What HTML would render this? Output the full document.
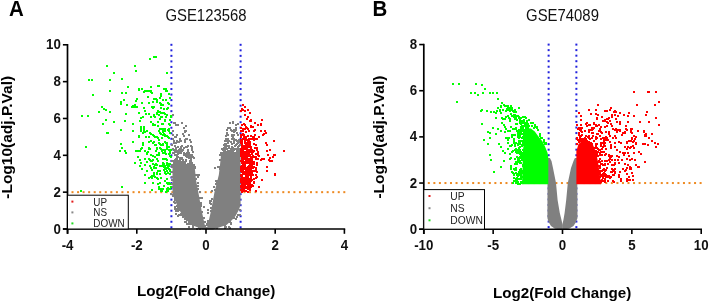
<!DOCTYPE html>
<html><head><meta charset="utf-8"><style>
html,body{margin:0;padding:0;background:#fff;width:709px;height:301px;overflow:hidden}
svg{display:block;filter:blur(0.35px)}
</style></head><body>
<svg width="709" height="301" viewBox="0 0 709 301" font-family='"Liberation Sans", sans-serif'>
<rect width="709" height="301" fill="#fff"/>
<rect x="170.40" y="43.80" width="2" height="2" fill="#2222dd"/>
<rect x="170.40" y="49.33" width="2" height="2" fill="#2222dd"/>
<rect x="170.40" y="54.86" width="2" height="2" fill="#2222dd"/>
<rect x="170.40" y="60.39" width="2" height="2" fill="#2222dd"/>
<rect x="170.40" y="65.92" width="2" height="2" fill="#2222dd"/>
<rect x="170.40" y="71.45" width="2" height="2" fill="#2222dd"/>
<rect x="170.40" y="76.98" width="2" height="2" fill="#2222dd"/>
<rect x="170.40" y="82.51" width="2" height="2" fill="#2222dd"/>
<rect x="170.40" y="88.04" width="2" height="2" fill="#2222dd"/>
<rect x="170.40" y="93.57" width="2" height="2" fill="#2222dd"/>
<rect x="170.40" y="99.10" width="2" height="2" fill="#2222dd"/>
<rect x="170.40" y="104.63" width="2" height="2" fill="#2222dd"/>
<rect x="170.40" y="110.16" width="2" height="2" fill="#2222dd"/>
<rect x="170.40" y="115.69" width="2" height="2" fill="#2222dd"/>
<rect x="170.40" y="121.22" width="2" height="2" fill="#2222dd"/>
<rect x="170.40" y="126.75" width="2" height="2" fill="#2222dd"/>
<rect x="170.40" y="132.28" width="2" height="2" fill="#2222dd"/>
<rect x="170.40" y="137.81" width="2" height="2" fill="#2222dd"/>
<rect x="170.40" y="143.34" width="2" height="2" fill="#2222dd"/>
<rect x="170.40" y="148.87" width="2" height="2" fill="#2222dd"/>
<rect x="170.40" y="154.40" width="2" height="2" fill="#2222dd"/>
<rect x="170.40" y="159.93" width="2" height="2" fill="#2222dd"/>
<rect x="170.40" y="165.46" width="2" height="2" fill="#2222dd"/>
<rect x="170.40" y="170.99" width="2" height="2" fill="#2222dd"/>
<rect x="170.40" y="176.52" width="2" height="2" fill="#2222dd"/>
<rect x="170.40" y="182.05" width="2" height="2" fill="#2222dd"/>
<rect x="170.40" y="187.58" width="2" height="2" fill="#2222dd"/>
<rect x="170.40" y="193.11" width="2" height="2" fill="#2222dd"/>
<rect x="170.40" y="198.64" width="2" height="2" fill="#2222dd"/>
<rect x="170.40" y="204.17" width="2" height="2" fill="#2222dd"/>
<rect x="170.40" y="209.70" width="2" height="2" fill="#2222dd"/>
<rect x="170.40" y="215.23" width="2" height="2" fill="#2222dd"/>
<rect x="170.40" y="220.76" width="2" height="2" fill="#2222dd"/>
<rect x="170.40" y="226.29" width="2" height="2" fill="#2222dd"/>
<rect x="239.60" y="43.80" width="2" height="2" fill="#2222dd"/>
<rect x="239.60" y="49.33" width="2" height="2" fill="#2222dd"/>
<rect x="239.60" y="54.86" width="2" height="2" fill="#2222dd"/>
<rect x="239.60" y="60.39" width="2" height="2" fill="#2222dd"/>
<rect x="239.60" y="65.92" width="2" height="2" fill="#2222dd"/>
<rect x="239.60" y="71.45" width="2" height="2" fill="#2222dd"/>
<rect x="239.60" y="76.98" width="2" height="2" fill="#2222dd"/>
<rect x="239.60" y="82.51" width="2" height="2" fill="#2222dd"/>
<rect x="239.60" y="88.04" width="2" height="2" fill="#2222dd"/>
<rect x="239.60" y="93.57" width="2" height="2" fill="#2222dd"/>
<rect x="239.60" y="99.10" width="2" height="2" fill="#2222dd"/>
<rect x="239.60" y="104.63" width="2" height="2" fill="#2222dd"/>
<rect x="239.60" y="110.16" width="2" height="2" fill="#2222dd"/>
<rect x="239.60" y="115.69" width="2" height="2" fill="#2222dd"/>
<rect x="239.60" y="121.22" width="2" height="2" fill="#2222dd"/>
<rect x="239.60" y="126.75" width="2" height="2" fill="#2222dd"/>
<rect x="239.60" y="132.28" width="2" height="2" fill="#2222dd"/>
<rect x="239.60" y="137.81" width="2" height="2" fill="#2222dd"/>
<rect x="239.60" y="143.34" width="2" height="2" fill="#2222dd"/>
<rect x="239.60" y="148.87" width="2" height="2" fill="#2222dd"/>
<rect x="239.60" y="154.40" width="2" height="2" fill="#2222dd"/>
<rect x="239.60" y="159.93" width="2" height="2" fill="#2222dd"/>
<rect x="239.60" y="165.46" width="2" height="2" fill="#2222dd"/>
<rect x="239.60" y="170.99" width="2" height="2" fill="#2222dd"/>
<rect x="239.60" y="176.52" width="2" height="2" fill="#2222dd"/>
<rect x="239.60" y="182.05" width="2" height="2" fill="#2222dd"/>
<rect x="239.60" y="187.58" width="2" height="2" fill="#2222dd"/>
<rect x="239.60" y="193.11" width="2" height="2" fill="#2222dd"/>
<rect x="239.60" y="198.64" width="2" height="2" fill="#2222dd"/>
<rect x="239.60" y="204.17" width="2" height="2" fill="#2222dd"/>
<rect x="239.60" y="209.70" width="2" height="2" fill="#2222dd"/>
<rect x="239.60" y="215.23" width="2" height="2" fill="#2222dd"/>
<rect x="239.60" y="220.76" width="2" height="2" fill="#2222dd"/>
<rect x="239.60" y="226.29" width="2" height="2" fill="#2222dd"/>
<rect x="71.50" y="191.16" width="2" height="2" fill="#ee8a22"/>
<rect x="77.05" y="191.16" width="2" height="2" fill="#ee8a22"/>
<rect x="82.59" y="191.16" width="2" height="2" fill="#ee8a22"/>
<rect x="88.14" y="191.16" width="2" height="2" fill="#ee8a22"/>
<rect x="93.69" y="191.16" width="2" height="2" fill="#ee8a22"/>
<rect x="99.23" y="191.16" width="2" height="2" fill="#ee8a22"/>
<rect x="104.78" y="191.16" width="2" height="2" fill="#ee8a22"/>
<rect x="110.33" y="191.16" width="2" height="2" fill="#ee8a22"/>
<rect x="115.88" y="191.16" width="2" height="2" fill="#ee8a22"/>
<rect x="121.42" y="191.16" width="2" height="2" fill="#ee8a22"/>
<rect x="126.97" y="191.16" width="2" height="2" fill="#ee8a22"/>
<rect x="132.52" y="191.16" width="2" height="2" fill="#ee8a22"/>
<rect x="138.06" y="191.16" width="2" height="2" fill="#ee8a22"/>
<rect x="143.61" y="191.16" width="2" height="2" fill="#ee8a22"/>
<rect x="149.16" y="191.16" width="2" height="2" fill="#ee8a22"/>
<rect x="154.70" y="191.16" width="2" height="2" fill="#ee8a22"/>
<rect x="160.25" y="191.16" width="2" height="2" fill="#ee8a22"/>
<rect x="165.80" y="191.16" width="2" height="2" fill="#ee8a22"/>
<rect x="171.35" y="191.16" width="2" height="2" fill="#ee8a22"/>
<rect x="176.89" y="191.16" width="2" height="2" fill="#ee8a22"/>
<rect x="182.44" y="191.16" width="2" height="2" fill="#ee8a22"/>
<rect x="187.99" y="191.16" width="2" height="2" fill="#ee8a22"/>
<rect x="193.53" y="191.16" width="2" height="2" fill="#ee8a22"/>
<rect x="199.08" y="191.16" width="2" height="2" fill="#ee8a22"/>
<rect x="204.63" y="191.16" width="2" height="2" fill="#ee8a22"/>
<rect x="210.17" y="191.16" width="2" height="2" fill="#ee8a22"/>
<rect x="215.72" y="191.16" width="2" height="2" fill="#ee8a22"/>
<rect x="221.27" y="191.16" width="2" height="2" fill="#ee8a22"/>
<rect x="226.82" y="191.16" width="2" height="2" fill="#ee8a22"/>
<rect x="232.36" y="191.16" width="2" height="2" fill="#ee8a22"/>
<rect x="237.91" y="191.16" width="2" height="2" fill="#ee8a22"/>
<rect x="243.46" y="191.16" width="2" height="2" fill="#ee8a22"/>
<rect x="249.00" y="191.16" width="2" height="2" fill="#ee8a22"/>
<rect x="254.55" y="191.16" width="2" height="2" fill="#ee8a22"/>
<rect x="260.10" y="191.16" width="2" height="2" fill="#ee8a22"/>
<rect x="265.64" y="191.16" width="2" height="2" fill="#ee8a22"/>
<rect x="271.19" y="191.16" width="2" height="2" fill="#ee8a22"/>
<rect x="276.74" y="191.16" width="2" height="2" fill="#ee8a22"/>
<rect x="282.29" y="191.16" width="2" height="2" fill="#ee8a22"/>
<rect x="287.83" y="191.16" width="2" height="2" fill="#ee8a22"/>
<rect x="293.38" y="191.16" width="2" height="2" fill="#ee8a22"/>
<rect x="298.93" y="191.16" width="2" height="2" fill="#ee8a22"/>
<rect x="304.47" y="191.16" width="2" height="2" fill="#ee8a22"/>
<rect x="310.02" y="191.16" width="2" height="2" fill="#ee8a22"/>
<rect x="315.57" y="191.16" width="2" height="2" fill="#ee8a22"/>
<rect x="321.12" y="191.16" width="2" height="2" fill="#ee8a22"/>
<rect x="326.66" y="191.16" width="2" height="2" fill="#ee8a22"/>
<rect x="332.21" y="191.16" width="2" height="2" fill="#ee8a22"/>
<rect x="337.76" y="191.16" width="2" height="2" fill="#ee8a22"/>
<rect x="343.30" y="191.16" width="2" height="2" fill="#ee8a22"/>
<rect x="547.63" y="43.60" width="2" height="2" fill="#2222dd"/>
<rect x="547.63" y="49.13" width="2" height="2" fill="#2222dd"/>
<rect x="547.63" y="54.66" width="2" height="2" fill="#2222dd"/>
<rect x="547.63" y="60.19" width="2" height="2" fill="#2222dd"/>
<rect x="547.63" y="65.72" width="2" height="2" fill="#2222dd"/>
<rect x="547.63" y="71.25" width="2" height="2" fill="#2222dd"/>
<rect x="547.63" y="76.78" width="2" height="2" fill="#2222dd"/>
<rect x="547.63" y="82.31" width="2" height="2" fill="#2222dd"/>
<rect x="547.63" y="87.84" width="2" height="2" fill="#2222dd"/>
<rect x="547.63" y="93.37" width="2" height="2" fill="#2222dd"/>
<rect x="547.63" y="98.90" width="2" height="2" fill="#2222dd"/>
<rect x="547.63" y="104.43" width="2" height="2" fill="#2222dd"/>
<rect x="547.63" y="109.96" width="2" height="2" fill="#2222dd"/>
<rect x="547.63" y="115.49" width="2" height="2" fill="#2222dd"/>
<rect x="547.63" y="121.02" width="2" height="2" fill="#2222dd"/>
<rect x="547.63" y="126.55" width="2" height="2" fill="#2222dd"/>
<rect x="547.63" y="132.08" width="2" height="2" fill="#2222dd"/>
<rect x="547.63" y="137.61" width="2" height="2" fill="#2222dd"/>
<rect x="547.63" y="143.14" width="2" height="2" fill="#2222dd"/>
<rect x="547.63" y="148.67" width="2" height="2" fill="#2222dd"/>
<rect x="547.63" y="154.20" width="2" height="2" fill="#2222dd"/>
<rect x="547.63" y="159.73" width="2" height="2" fill="#2222dd"/>
<rect x="547.63" y="165.26" width="2" height="2" fill="#2222dd"/>
<rect x="547.63" y="170.79" width="2" height="2" fill="#2222dd"/>
<rect x="547.63" y="176.32" width="2" height="2" fill="#2222dd"/>
<rect x="547.63" y="181.85" width="2" height="2" fill="#2222dd"/>
<rect x="547.63" y="187.38" width="2" height="2" fill="#2222dd"/>
<rect x="547.63" y="192.91" width="2" height="2" fill="#2222dd"/>
<rect x="547.63" y="198.44" width="2" height="2" fill="#2222dd"/>
<rect x="547.63" y="203.97" width="2" height="2" fill="#2222dd"/>
<rect x="547.63" y="209.50" width="2" height="2" fill="#2222dd"/>
<rect x="547.63" y="215.03" width="2" height="2" fill="#2222dd"/>
<rect x="547.63" y="220.56" width="2" height="2" fill="#2222dd"/>
<rect x="547.63" y="226.09" width="2" height="2" fill="#2222dd"/>
<rect x="575.37" y="43.60" width="2" height="2" fill="#2222dd"/>
<rect x="575.37" y="49.13" width="2" height="2" fill="#2222dd"/>
<rect x="575.37" y="54.66" width="2" height="2" fill="#2222dd"/>
<rect x="575.37" y="60.19" width="2" height="2" fill="#2222dd"/>
<rect x="575.37" y="65.72" width="2" height="2" fill="#2222dd"/>
<rect x="575.37" y="71.25" width="2" height="2" fill="#2222dd"/>
<rect x="575.37" y="76.78" width="2" height="2" fill="#2222dd"/>
<rect x="575.37" y="82.31" width="2" height="2" fill="#2222dd"/>
<rect x="575.37" y="87.84" width="2" height="2" fill="#2222dd"/>
<rect x="575.37" y="93.37" width="2" height="2" fill="#2222dd"/>
<rect x="575.37" y="98.90" width="2" height="2" fill="#2222dd"/>
<rect x="575.37" y="104.43" width="2" height="2" fill="#2222dd"/>
<rect x="575.37" y="109.96" width="2" height="2" fill="#2222dd"/>
<rect x="575.37" y="115.49" width="2" height="2" fill="#2222dd"/>
<rect x="575.37" y="121.02" width="2" height="2" fill="#2222dd"/>
<rect x="575.37" y="126.55" width="2" height="2" fill="#2222dd"/>
<rect x="575.37" y="132.08" width="2" height="2" fill="#2222dd"/>
<rect x="575.37" y="137.61" width="2" height="2" fill="#2222dd"/>
<rect x="575.37" y="143.14" width="2" height="2" fill="#2222dd"/>
<rect x="575.37" y="148.67" width="2" height="2" fill="#2222dd"/>
<rect x="575.37" y="154.20" width="2" height="2" fill="#2222dd"/>
<rect x="575.37" y="159.73" width="2" height="2" fill="#2222dd"/>
<rect x="575.37" y="165.26" width="2" height="2" fill="#2222dd"/>
<rect x="575.37" y="170.79" width="2" height="2" fill="#2222dd"/>
<rect x="575.37" y="176.32" width="2" height="2" fill="#2222dd"/>
<rect x="575.37" y="181.85" width="2" height="2" fill="#2222dd"/>
<rect x="575.37" y="187.38" width="2" height="2" fill="#2222dd"/>
<rect x="575.37" y="192.91" width="2" height="2" fill="#2222dd"/>
<rect x="575.37" y="198.44" width="2" height="2" fill="#2222dd"/>
<rect x="575.37" y="203.97" width="2" height="2" fill="#2222dd"/>
<rect x="575.37" y="209.50" width="2" height="2" fill="#2222dd"/>
<rect x="575.37" y="215.03" width="2" height="2" fill="#2222dd"/>
<rect x="575.37" y="220.56" width="2" height="2" fill="#2222dd"/>
<rect x="575.37" y="226.09" width="2" height="2" fill="#2222dd"/>
<rect x="427.80" y="182.04" width="2" height="2" fill="#ee8a22"/>
<rect x="433.35" y="182.04" width="2" height="2" fill="#ee8a22"/>
<rect x="438.89" y="182.04" width="2" height="2" fill="#ee8a22"/>
<rect x="444.44" y="182.04" width="2" height="2" fill="#ee8a22"/>
<rect x="449.99" y="182.04" width="2" height="2" fill="#ee8a22"/>
<rect x="455.54" y="182.04" width="2" height="2" fill="#ee8a22"/>
<rect x="461.08" y="182.04" width="2" height="2" fill="#ee8a22"/>
<rect x="466.63" y="182.04" width="2" height="2" fill="#ee8a22"/>
<rect x="472.18" y="182.04" width="2" height="2" fill="#ee8a22"/>
<rect x="477.72" y="182.04" width="2" height="2" fill="#ee8a22"/>
<rect x="483.27" y="182.04" width="2" height="2" fill="#ee8a22"/>
<rect x="488.82" y="182.04" width="2" height="2" fill="#ee8a22"/>
<rect x="494.36" y="182.04" width="2" height="2" fill="#ee8a22"/>
<rect x="499.91" y="182.04" width="2" height="2" fill="#ee8a22"/>
<rect x="505.46" y="182.04" width="2" height="2" fill="#ee8a22"/>
<rect x="511.01" y="182.04" width="2" height="2" fill="#ee8a22"/>
<rect x="516.55" y="182.04" width="2" height="2" fill="#ee8a22"/>
<rect x="522.10" y="182.04" width="2" height="2" fill="#ee8a22"/>
<rect x="527.65" y="182.04" width="2" height="2" fill="#ee8a22"/>
<rect x="533.19" y="182.04" width="2" height="2" fill="#ee8a22"/>
<rect x="538.74" y="182.04" width="2" height="2" fill="#ee8a22"/>
<rect x="544.29" y="182.04" width="2" height="2" fill="#ee8a22"/>
<rect x="549.83" y="182.04" width="2" height="2" fill="#ee8a22"/>
<rect x="555.38" y="182.04" width="2" height="2" fill="#ee8a22"/>
<rect x="560.93" y="182.04" width="2" height="2" fill="#ee8a22"/>
<rect x="566.48" y="182.04" width="2" height="2" fill="#ee8a22"/>
<rect x="572.02" y="182.04" width="2" height="2" fill="#ee8a22"/>
<rect x="577.57" y="182.04" width="2" height="2" fill="#ee8a22"/>
<rect x="583.12" y="182.04" width="2" height="2" fill="#ee8a22"/>
<rect x="588.66" y="182.04" width="2" height="2" fill="#ee8a22"/>
<rect x="594.21" y="182.04" width="2" height="2" fill="#ee8a22"/>
<rect x="599.76" y="182.04" width="2" height="2" fill="#ee8a22"/>
<rect x="605.30" y="182.04" width="2" height="2" fill="#ee8a22"/>
<rect x="610.85" y="182.04" width="2" height="2" fill="#ee8a22"/>
<rect x="616.40" y="182.04" width="2" height="2" fill="#ee8a22"/>
<rect x="621.95" y="182.04" width="2" height="2" fill="#ee8a22"/>
<rect x="627.49" y="182.04" width="2" height="2" fill="#ee8a22"/>
<rect x="633.04" y="182.04" width="2" height="2" fill="#ee8a22"/>
<rect x="638.59" y="182.04" width="2" height="2" fill="#ee8a22"/>
<rect x="644.13" y="182.04" width="2" height="2" fill="#ee8a22"/>
<rect x="649.68" y="182.04" width="2" height="2" fill="#ee8a22"/>
<rect x="655.23" y="182.04" width="2" height="2" fill="#ee8a22"/>
<rect x="660.77" y="182.04" width="2" height="2" fill="#ee8a22"/>
<rect x="666.32" y="182.04" width="2" height="2" fill="#ee8a22"/>
<rect x="671.87" y="182.04" width="2" height="2" fill="#ee8a22"/>
<rect x="677.42" y="182.04" width="2" height="2" fill="#ee8a22"/>
<rect x="682.96" y="182.04" width="2" height="2" fill="#ee8a22"/>
<rect x="688.51" y="182.04" width="2" height="2" fill="#ee8a22"/>
<rect x="694.06" y="182.04" width="2" height="2" fill="#ee8a22"/>
<rect x="699.60" y="182.04" width="2" height="2" fill="#ee8a22"/>
<polygon points="172.5,165.0 194.5,165.0 196.0,180.0 198.3,192.0 201.5,210.0 204.8,225.0 206.3,229.5 203.0,229.5 193.0,225.5 185.0,219.0 180.5,212.0 177.0,205.0 174.0,198.0 172.5,192.0" fill="#808080"/>
<polygon points="221.0,152.0 240.6,152.0 240.6,205.0 238.8,210.0 235.5,216.0 232.0,220.0 226.5,225.0 213.0,229.5 206.3,229.5 207.8,225.0 211.2,210.0 214.5,192.0 218.8,175.0 220.0,165.0 221.0,155.0" fill="#808080"/>
<polygon points="547.6,158.0 549.9,158.0 551.5,161.0 553.0,168.0 556.0,183.0 557.6,200.0 559.8,213.0 561.5,220.0 562.7,225.0 562.7,229.5 555.0,228.8 551.0,226.0 548.6,222.0 547.4,218.0" fill="#808080"/>
<polygon points="577.2,158.0 574.9,158.0 573.5,161.0 571.0,168.0 567.8,183.0 566.2,200.0 564.6,213.0 563.4,220.0 562.3,225.0 562.3,229.5 569.0,228.8 573.5,226.0 576.0,222.0 577.5,218.0" fill="#808080"/>
<polygon points="527.0,128.0 530.9,128.5 534.8,131.6 538.8,136.9 542.2,141.0 545.0,146.4 547.6,153.0 548.3,158.0 548.3,184.3 522.0,184.3 522.5,170.0 523.0,150.0 524.5,138.0" fill="#00ff00"/>
<polygon points="576.4,151.0 578.5,144.0 582.0,141.0 588.0,141.0 593.0,145.0 596.0,152.0 598.0,162.0 599.5,172.0 601.0,184.3 576.4,184.3" fill="#ff0000"/>
<rect x="185" y="221" width="2" height="2" fill="#808080"/>
<rect x="201" y="211" width="2" height="2" fill="#808080"/>
<rect x="181" y="163" width="2" height="2" fill="#808080"/>
<rect x="180" y="213" width="2" height="2" fill="#808080"/>
<rect x="171" y="179" width="2" height="2" fill="#808080"/>
<rect x="171" y="171" width="2" height="2" fill="#808080"/>
<rect x="184" y="162" width="2" height="2" fill="#808080"/>
<rect x="197" y="176" width="2" height="2" fill="#808080"/>
<rect x="200" y="205" width="2" height="2" fill="#808080"/>
<rect x="179" y="163" width="2" height="2" fill="#808080"/>
<rect x="172" y="194" width="2" height="2" fill="#808080"/>
<rect x="178" y="208" width="2" height="2" fill="#808080"/>
<rect x="181" y="164" width="2" height="2" fill="#808080"/>
<rect x="171" y="164" width="2" height="2" fill="#808080"/>
<rect x="197" y="182" width="2" height="2" fill="#808080"/>
<rect x="199" y="197" width="2" height="2" fill="#808080"/>
<rect x="173" y="163" width="2" height="2" fill="#808080"/>
<rect x="200" y="204" width="2" height="2" fill="#808080"/>
<rect x="177" y="164" width="2" height="2" fill="#808080"/>
<rect x="195" y="174" width="2" height="2" fill="#808080"/>
<rect x="191" y="164" width="2" height="2" fill="#808080"/>
<rect x="194" y="166" width="2" height="2" fill="#808080"/>
<rect x="198" y="174" width="2" height="2" fill="#808080"/>
<rect x="204" y="221" width="2" height="2" fill="#808080"/>
<rect x="201" y="197" width="2" height="2" fill="#808080"/>
<rect x="184" y="218" width="2" height="2" fill="#808080"/>
<rect x="182" y="216" width="2" height="2" fill="#808080"/>
<rect x="176" y="208" width="2" height="2" fill="#808080"/>
<rect x="171" y="186" width="2" height="2" fill="#808080"/>
<rect x="171" y="176" width="2" height="2" fill="#808080"/>
<rect x="176" y="205" width="2" height="2" fill="#808080"/>
<rect x="200" y="202" width="2" height="2" fill="#808080"/>
<rect x="199" y="191" width="2" height="2" fill="#808080"/>
<rect x="194" y="167" width="2" height="2" fill="#808080"/>
<rect x="197" y="185" width="2" height="2" fill="#808080"/>
<rect x="203" y="206" width="2" height="2" fill="#808080"/>
<rect x="195" y="178" width="2" height="2" fill="#808080"/>
<rect x="188" y="226" width="2" height="2" fill="#808080"/>
<rect x="188" y="163" width="2" height="2" fill="#808080"/>
<rect x="208" y="227" width="2" height="2" fill="#808080"/>
<rect x="172" y="195" width="2" height="2" fill="#808080"/>
<rect x="197" y="174" width="2" height="2" fill="#808080"/>
<rect x="186" y="164" width="2" height="2" fill="#808080"/>
<rect x="198" y="227" width="2" height="2" fill="#808080"/>
<rect x="171" y="166" width="2" height="2" fill="#808080"/>
<rect x="184" y="164" width="2" height="2" fill="#808080"/>
<rect x="180" y="164" width="2" height="2" fill="#808080"/>
<rect x="196" y="185" width="2" height="2" fill="#808080"/>
<rect x="203" y="217" width="2" height="2" fill="#808080"/>
<rect x="197" y="188" width="2" height="2" fill="#808080"/>
<rect x="176" y="163" width="2" height="2" fill="#808080"/>
<rect x="171" y="183" width="2" height="2" fill="#808080"/>
<rect x="175" y="213" width="2" height="2" fill="#808080"/>
<rect x="174" y="164" width="2" height="2" fill="#808080"/>
<rect x="181" y="214" width="2" height="2" fill="#808080"/>
<rect x="199" y="228" width="2" height="2" fill="#808080"/>
<rect x="190" y="157" width="2" height="2" fill="#808080"/>
<rect x="188" y="155" width="2" height="2" fill="#808080"/>
<rect x="176" y="158" width="2" height="2" fill="#808080"/>
<rect x="189" y="157" width="2" height="2" fill="#808080"/>
<rect x="190" y="164" width="2" height="2" fill="#808080"/>
<rect x="171" y="160" width="2" height="2" fill="#808080"/>
<rect x="175" y="147" width="2" height="2" fill="#808080"/>
<rect x="191" y="163" width="2" height="2" fill="#808080"/>
<rect x="175" y="124" width="2" height="2" fill="#808080"/>
<rect x="184" y="130" width="2" height="2" fill="#808080"/>
<rect x="185" y="160" width="2" height="2" fill="#808080"/>
<rect x="189" y="160" width="2" height="2" fill="#808080"/>
<rect x="183" y="135" width="2" height="2" fill="#808080"/>
<rect x="176" y="141" width="2" height="2" fill="#808080"/>
<rect x="175" y="149" width="2" height="2" fill="#808080"/>
<rect x="185" y="130" width="2" height="2" fill="#808080"/>
<rect x="182" y="159" width="2" height="2" fill="#808080"/>
<rect x="188" y="152" width="2" height="2" fill="#808080"/>
<rect x="179" y="138" width="2" height="2" fill="#808080"/>
<rect x="177" y="153" width="2" height="2" fill="#808080"/>
<rect x="181" y="161" width="2" height="2" fill="#808080"/>
<rect x="181" y="145" width="2" height="2" fill="#808080"/>
<rect x="176" y="156" width="2" height="2" fill="#808080"/>
<rect x="191" y="147" width="2" height="2" fill="#808080"/>
<rect x="172" y="148" width="2" height="2" fill="#808080"/>
<rect x="189" y="163" width="2" height="2" fill="#808080"/>
<rect x="176" y="140" width="2" height="2" fill="#808080"/>
<rect x="184" y="139" width="2" height="2" fill="#808080"/>
<rect x="184" y="163" width="2" height="2" fill="#808080"/>
<rect x="177" y="150" width="2" height="2" fill="#808080"/>
<rect x="173" y="140" width="2" height="2" fill="#808080"/>
<rect x="175" y="161" width="2" height="2" fill="#808080"/>
<rect x="176" y="151" width="2" height="2" fill="#808080"/>
<rect x="177" y="156" width="2" height="2" fill="#808080"/>
<rect x="186" y="154" width="2" height="2" fill="#808080"/>
<rect x="177" y="162" width="2" height="2" fill="#808080"/>
<rect x="182" y="162" width="2" height="2" fill="#808080"/>
<rect x="175" y="162" width="2" height="2" fill="#808080"/>
<rect x="187" y="151" width="2" height="2" fill="#808080"/>
<rect x="184" y="141" width="2" height="2" fill="#808080"/>
<rect x="177" y="152" width="2" height="2" fill="#808080"/>
<rect x="175" y="150" width="2" height="2" fill="#808080"/>
<rect x="180" y="163" width="2" height="2" fill="#808080"/>
<rect x="176" y="160" width="2" height="2" fill="#808080"/>
<rect x="179" y="160" width="2" height="2" fill="#808080"/>
<rect x="185" y="125" width="2" height="2" fill="#808080"/>
<rect x="185" y="155" width="2" height="2" fill="#808080"/>
<rect x="179" y="148" width="2" height="2" fill="#808080"/>
<rect x="171" y="144" width="2" height="2" fill="#808080"/>
<rect x="183" y="154" width="2" height="2" fill="#808080"/>
<rect x="172" y="152" width="2" height="2" fill="#808080"/>
<rect x="182" y="133" width="2" height="2" fill="#808080"/>
<rect x="189" y="162" width="2" height="2" fill="#808080"/>
<rect x="175" y="148" width="2" height="2" fill="#808080"/>
<rect x="176" y="124" width="2" height="2" fill="#808080"/>
<rect x="176" y="159" width="2" height="2" fill="#808080"/>
<rect x="173" y="142" width="2" height="2" fill="#808080"/>
<rect x="173" y="149" width="2" height="2" fill="#808080"/>
<rect x="175" y="154" width="2" height="2" fill="#808080"/>
<rect x="184" y="154" width="2" height="2" fill="#808080"/>
<rect x="174" y="145" width="2" height="2" fill="#808080"/>
<rect x="190" y="156" width="2" height="2" fill="#808080"/>
<rect x="181" y="158" width="2" height="2" fill="#808080"/>
<rect x="189" y="139" width="2" height="2" fill="#808080"/>
<rect x="177" y="124" width="2" height="2" fill="#808080"/>
<rect x="177" y="163" width="2" height="2" fill="#808080"/>
<rect x="172" y="114" width="2" height="2" fill="#808080"/>
<rect x="173" y="161" width="2" height="2" fill="#808080"/>
<rect x="174" y="162" width="2" height="2" fill="#808080"/>
<rect x="179" y="139" width="2" height="2" fill="#808080"/>
<rect x="180" y="152" width="2" height="2" fill="#808080"/>
<rect x="186" y="156" width="2" height="2" fill="#808080"/>
<rect x="172" y="134" width="2" height="2" fill="#808080"/>
<rect x="181" y="149" width="2" height="2" fill="#808080"/>
<rect x="176" y="134" width="2" height="2" fill="#808080"/>
<rect x="173" y="122" width="2" height="2" fill="#808080"/>
<rect x="180" y="147" width="2" height="2" fill="#808080"/>
<rect x="182" y="164" width="2" height="2" fill="#808080"/>
<rect x="176" y="155" width="2" height="2" fill="#808080"/>
<rect x="176" y="162" width="2" height="2" fill="#808080"/>
<rect x="177" y="161" width="2" height="2" fill="#808080"/>
<rect x="172" y="160" width="2" height="2" fill="#808080"/>
<rect x="193" y="157" width="2" height="2" fill="#808080"/>
<rect x="186" y="138" width="2" height="2" fill="#808080"/>
<rect x="186" y="152" width="2" height="2" fill="#808080"/>
<rect x="184" y="161" width="2" height="2" fill="#808080"/>
<rect x="175" y="136" width="2" height="2" fill="#808080"/>
<rect x="187" y="163" width="2" height="2" fill="#808080"/>
<rect x="189" y="154" width="2" height="2" fill="#808080"/>
<rect x="175" y="142" width="2" height="2" fill="#808080"/>
<rect x="185" y="159" width="2" height="2" fill="#808080"/>
<rect x="178" y="149" width="2" height="2" fill="#808080"/>
<rect x="172" y="138" width="2" height="2" fill="#808080"/>
<rect x="183" y="152" width="2" height="2" fill="#808080"/>
<rect x="177" y="146" width="2" height="2" fill="#808080"/>
<rect x="188" y="134" width="2" height="2" fill="#808080"/>
<rect x="190" y="141" width="2" height="2" fill="#808080"/>
<rect x="190" y="155" width="2" height="2" fill="#808080"/>
<rect x="188" y="154" width="2" height="2" fill="#808080"/>
<rect x="186" y="146" width="2" height="2" fill="#808080"/>
<rect x="191" y="146" width="2" height="2" fill="#808080"/>
<rect x="184" y="153" width="2" height="2" fill="#808080"/>
<rect x="188" y="157" width="2" height="2" fill="#808080"/>
<rect x="191" y="162" width="2" height="2" fill="#808080"/>
<rect x="187" y="149" width="2" height="2" fill="#808080"/>
<rect x="190" y="160" width="2" height="2" fill="#808080"/>
<rect x="179" y="152" width="2" height="2" fill="#808080"/>
<rect x="182" y="161" width="2" height="2" fill="#808080"/>
<rect x="179" y="161" width="2" height="2" fill="#808080"/>
<rect x="191" y="154" width="2" height="2" fill="#808080"/>
<rect x="179" y="159" width="2" height="2" fill="#808080"/>
<rect x="185" y="153" width="2" height="2" fill="#808080"/>
<rect x="174" y="122" width="2" height="2" fill="#808080"/>
<rect x="193" y="164" width="2" height="2" fill="#808080"/>
<rect x="179" y="150" width="2" height="2" fill="#808080"/>
<rect x="183" y="147" width="2" height="2" fill="#808080"/>
<rect x="189" y="164" width="2" height="2" fill="#808080"/>
<rect x="178" y="151" width="2" height="2" fill="#808080"/>
<rect x="177" y="160" width="2" height="2" fill="#808080"/>
<rect x="192" y="151" width="2" height="2" fill="#808080"/>
<rect x="173" y="152" width="2" height="2" fill="#808080"/>
<rect x="181" y="150" width="2" height="2" fill="#808080"/>
<rect x="187" y="145" width="2" height="2" fill="#808080"/>
<rect x="182" y="149" width="2" height="2" fill="#808080"/>
<rect x="181" y="157" width="2" height="2" fill="#808080"/>
<rect x="174" y="151" width="2" height="2" fill="#808080"/>
<rect x="190" y="159" width="2" height="2" fill="#808080"/>
<rect x="174" y="154" width="2" height="2" fill="#808080"/>
<rect x="175" y="158" width="2" height="2" fill="#808080"/>
<rect x="183" y="127" width="2" height="2" fill="#808080"/>
<rect x="178" y="163" width="2" height="2" fill="#808080"/>
<rect x="192" y="164" width="2" height="2" fill="#808080"/>
<rect x="178" y="141" width="2" height="2" fill="#808080"/>
<rect x="190" y="163" width="2" height="2" fill="#808080"/>
<rect x="185" y="146" width="2" height="2" fill="#808080"/>
<rect x="180" y="140" width="2" height="2" fill="#808080"/>
<rect x="190" y="145" width="2" height="2" fill="#808080"/>
<rect x="174" y="136" width="2" height="2" fill="#808080"/>
<rect x="187" y="154" width="2" height="2" fill="#808080"/>
<rect x="191" y="149" width="2" height="2" fill="#808080"/>
<rect x="180" y="146" width="2" height="2" fill="#808080"/>
<rect x="172" y="130" width="2" height="2" fill="#808080"/>
<rect x="192" y="156" width="2" height="2" fill="#808080"/>
<rect x="174" y="159" width="2" height="2" fill="#808080"/>
<rect x="185" y="138" width="2" height="2" fill="#808080"/>
<rect x="184" y="131" width="2" height="2" fill="#808080"/>
<rect x="181" y="122" width="2" height="2" fill="#808080"/>
<rect x="179" y="157" width="2" height="2" fill="#808080"/>
<rect x="178" y="214" width="2" height="2" fill="#808080"/>
<rect x="177" y="206" width="2" height="2" fill="#808080"/>
<rect x="174" y="198" width="2" height="2" fill="#808080"/>
<rect x="188" y="223" width="2" height="2" fill="#808080"/>
<rect x="174" y="208" width="2" height="2" fill="#808080"/>
<rect x="173" y="193" width="2" height="2" fill="#808080"/>
<rect x="189" y="223" width="2" height="2" fill="#808080"/>
<rect x="179" y="214" width="2" height="2" fill="#808080"/>
<rect x="188" y="221" width="2" height="2" fill="#808080"/>
<rect x="192" y="224" width="2" height="2" fill="#808080"/>
<rect x="170" y="193" width="2" height="2" fill="#808080"/>
<rect x="186" y="219" width="2" height="2" fill="#808080"/>
<rect x="175" y="210" width="2" height="2" fill="#808080"/>
<rect x="190" y="223" width="2" height="2" fill="#808080"/>
<rect x="174" y="206" width="2" height="2" fill="#808080"/>
<rect x="196" y="228" width="2" height="2" fill="#808080"/>
<rect x="184" y="221" width="2" height="2" fill="#808080"/>
<rect x="174" y="199" width="2" height="2" fill="#808080"/>
<rect x="192" y="226" width="2" height="2" fill="#808080"/>
<rect x="186" y="223" width="2" height="2" fill="#808080"/>
<rect x="174" y="202" width="2" height="2" fill="#808080"/>
<rect x="173" y="201" width="2" height="2" fill="#808080"/>
<rect x="178" y="209" width="2" height="2" fill="#808080"/>
<rect x="177" y="215" width="2" height="2" fill="#808080"/>
<rect x="177" y="210" width="2" height="2" fill="#808080"/>
<rect x="210" y="203" width="2" height="2" fill="#808080"/>
<rect x="224" y="225" width="2" height="2" fill="#808080"/>
<rect x="239" y="214" width="2" height="2" fill="#808080"/>
<rect x="207" y="221" width="2" height="2" fill="#808080"/>
<rect x="209" y="202" width="2" height="2" fill="#808080"/>
<rect x="216" y="180" width="2" height="2" fill="#808080"/>
<rect x="206" y="223" width="2" height="2" fill="#808080"/>
<rect x="216" y="227" width="2" height="2" fill="#808080"/>
<rect x="219" y="154" width="2" height="2" fill="#808080"/>
<rect x="220" y="154" width="2" height="2" fill="#808080"/>
<rect x="219" y="159" width="2" height="2" fill="#808080"/>
<rect x="210" y="207" width="2" height="2" fill="#808080"/>
<rect x="233" y="217" width="2" height="2" fill="#808080"/>
<rect x="207" y="212" width="2" height="2" fill="#808080"/>
<rect x="206" y="224" width="2" height="2" fill="#808080"/>
<rect x="211" y="190" width="2" height="2" fill="#808080"/>
<rect x="239" y="209" width="2" height="2" fill="#808080"/>
<rect x="219" y="168" width="2" height="2" fill="#808080"/>
<rect x="225" y="151" width="2" height="2" fill="#808080"/>
<rect x="207" y="209" width="2" height="2" fill="#808080"/>
<rect x="215" y="180" width="2" height="2" fill="#808080"/>
<rect x="230" y="222" width="2" height="2" fill="#808080"/>
<rect x="209" y="200" width="2" height="2" fill="#808080"/>
<rect x="215" y="183" width="2" height="2" fill="#808080"/>
<rect x="229" y="227" width="2" height="2" fill="#808080"/>
<rect x="236" y="150" width="2" height="2" fill="#808080"/>
<rect x="205" y="227" width="2" height="2" fill="#808080"/>
<rect x="228" y="151" width="2" height="2" fill="#808080"/>
<rect x="230" y="223" width="2" height="2" fill="#808080"/>
<rect x="224" y="227" width="2" height="2" fill="#808080"/>
<rect x="214" y="189" width="2" height="2" fill="#808080"/>
<rect x="211" y="198" width="2" height="2" fill="#808080"/>
<rect x="228" y="226" width="2" height="2" fill="#808080"/>
<rect x="204" y="225" width="2" height="2" fill="#808080"/>
<rect x="213" y="186" width="2" height="2" fill="#808080"/>
<rect x="207" y="220" width="2" height="2" fill="#808080"/>
<rect x="218" y="166" width="2" height="2" fill="#808080"/>
<rect x="223" y="151" width="2" height="2" fill="#808080"/>
<rect x="225" y="226" width="2" height="2" fill="#808080"/>
<rect x="236" y="216" width="2" height="2" fill="#808080"/>
<rect x="210" y="210" width="2" height="2" fill="#808080"/>
<rect x="207" y="222" width="2" height="2" fill="#808080"/>
<rect x="214" y="167" width="2" height="2" fill="#808080"/>
<rect x="224" y="150" width="2" height="2" fill="#808080"/>
<rect x="216" y="181" width="2" height="2" fill="#808080"/>
<rect x="217" y="166" width="2" height="2" fill="#808080"/>
<rect x="210" y="200" width="2" height="2" fill="#808080"/>
<rect x="227" y="150" width="2" height="2" fill="#808080"/>
<rect x="230" y="151" width="2" height="2" fill="#808080"/>
<rect x="232" y="151" width="2" height="2" fill="#808080"/>
<rect x="220" y="152" width="2" height="2" fill="#808080"/>
<rect x="232" y="121" width="2" height="2" fill="#808080"/>
<rect x="237" y="123" width="2" height="2" fill="#808080"/>
<rect x="237" y="151" width="2" height="2" fill="#808080"/>
<rect x="226" y="132" width="2" height="2" fill="#808080"/>
<rect x="222" y="148" width="2" height="2" fill="#808080"/>
<rect x="228" y="140" width="2" height="2" fill="#808080"/>
<rect x="227" y="142" width="2" height="2" fill="#808080"/>
<rect x="238" y="145" width="2" height="2" fill="#808080"/>
<rect x="233" y="131" width="2" height="2" fill="#808080"/>
<rect x="237" y="142" width="2" height="2" fill="#808080"/>
<rect x="239" y="150" width="2" height="2" fill="#808080"/>
<rect x="238" y="141" width="2" height="2" fill="#808080"/>
<rect x="223" y="148" width="2" height="2" fill="#808080"/>
<rect x="230" y="148" width="2" height="2" fill="#808080"/>
<rect x="239" y="140" width="2" height="2" fill="#808080"/>
<rect x="225" y="138" width="2" height="2" fill="#808080"/>
<rect x="227" y="134" width="2" height="2" fill="#808080"/>
<rect x="233" y="142" width="2" height="2" fill="#808080"/>
<rect x="232" y="138" width="2" height="2" fill="#808080"/>
<rect x="235" y="139" width="2" height="2" fill="#808080"/>
<rect x="224" y="143" width="2" height="2" fill="#808080"/>
<rect x="233" y="149" width="2" height="2" fill="#808080"/>
<rect x="225" y="143" width="2" height="2" fill="#808080"/>
<rect x="226" y="140" width="2" height="2" fill="#808080"/>
<rect x="233" y="129" width="2" height="2" fill="#808080"/>
<rect x="233" y="138" width="2" height="2" fill="#808080"/>
<rect x="236" y="149" width="2" height="2" fill="#808080"/>
<rect x="225" y="135" width="2" height="2" fill="#808080"/>
<rect x="235" y="144" width="2" height="2" fill="#808080"/>
<rect x="236" y="143" width="2" height="2" fill="#808080"/>
<rect x="239" y="139" width="2" height="2" fill="#808080"/>
<rect x="239" y="141" width="2" height="2" fill="#808080"/>
<rect x="227" y="138" width="2" height="2" fill="#808080"/>
<rect x="234" y="145" width="2" height="2" fill="#808080"/>
<rect x="232" y="135" width="2" height="2" fill="#808080"/>
<rect x="234" y="148" width="2" height="2" fill="#808080"/>
<rect x="228" y="145" width="2" height="2" fill="#808080"/>
<rect x="232" y="122" width="2" height="2" fill="#808080"/>
<rect x="237" y="149" width="2" height="2" fill="#808080"/>
<rect x="221" y="148" width="2" height="2" fill="#808080"/>
<rect x="233" y="134" width="2" height="2" fill="#808080"/>
<rect x="228" y="147" width="2" height="2" fill="#808080"/>
<rect x="237" y="134" width="2" height="2" fill="#808080"/>
<rect x="236" y="132" width="2" height="2" fill="#808080"/>
<rect x="229" y="122" width="2" height="2" fill="#808080"/>
<rect x="234" y="130" width="2" height="2" fill="#808080"/>
<rect x="240" y="135" width="2" height="2" fill="#808080"/>
<rect x="225" y="140" width="2" height="2" fill="#808080"/>
<rect x="227" y="127" width="2" height="2" fill="#808080"/>
<rect x="224" y="148" width="2" height="2" fill="#808080"/>
<rect x="237" y="146" width="2" height="2" fill="#808080"/>
<rect x="232" y="149" width="2" height="2" fill="#808080"/>
<rect x="236" y="148" width="2" height="2" fill="#808080"/>
<rect x="232" y="147" width="2" height="2" fill="#808080"/>
<rect x="230" y="149" width="2" height="2" fill="#808080"/>
<rect x="231" y="146" width="2" height="2" fill="#808080"/>
<rect x="235" y="129" width="2" height="2" fill="#808080"/>
<rect x="225" y="145" width="2" height="2" fill="#808080"/>
<rect x="231" y="134" width="2" height="2" fill="#808080"/>
<rect x="233" y="140" width="2" height="2" fill="#808080"/>
<rect x="233" y="148" width="2" height="2" fill="#808080"/>
<rect x="225" y="147" width="2" height="2" fill="#808080"/>
<rect x="239" y="144" width="2" height="2" fill="#808080"/>
<rect x="224" y="140" width="2" height="2" fill="#808080"/>
<rect x="232" y="150" width="2" height="2" fill="#808080"/>
<rect x="223" y="144" width="2" height="2" fill="#808080"/>
<rect x="238" y="148" width="2" height="2" fill="#808080"/>
<rect x="229" y="127" width="2" height="2" fill="#808080"/>
<rect x="226" y="129" width="2" height="2" fill="#808080"/>
<rect x="236" y="140" width="2" height="2" fill="#808080"/>
<rect x="222" y="149" width="2" height="2" fill="#808080"/>
<rect x="226" y="148" width="2" height="2" fill="#808080"/>
<rect x="226" y="151" width="2" height="2" fill="#808080"/>
<rect x="228" y="150" width="2" height="2" fill="#808080"/>
<rect x="231" y="138" width="2" height="2" fill="#808080"/>
<rect x="230" y="141" width="2" height="2" fill="#808080"/>
<rect x="235" y="124" width="2" height="2" fill="#808080"/>
<rect x="239" y="149" width="2" height="2" fill="#808080"/>
<rect x="235" y="127" width="2" height="2" fill="#808080"/>
<rect x="230" y="129" width="2" height="2" fill="#808080"/>
<rect x="234" y="139" width="2" height="2" fill="#808080"/>
<rect x="232" y="136" width="2" height="2" fill="#808080"/>
<rect x="238" y="139" width="2" height="2" fill="#808080"/>
<rect x="231" y="143" width="2" height="2" fill="#808080"/>
<rect x="225" y="146" width="2" height="2" fill="#808080"/>
<rect x="231" y="135" width="2" height="2" fill="#808080"/>
<rect x="223" y="147" width="2" height="2" fill="#808080"/>
<rect x="226" y="145" width="2" height="2" fill="#808080"/>
<rect x="231" y="130" width="2" height="2" fill="#808080"/>
<rect x="224" y="146" width="2" height="2" fill="#808080"/>
<rect x="231" y="150" width="2" height="2" fill="#808080"/>
<rect x="226" y="133" width="2" height="2" fill="#808080"/>
<rect x="232" y="134" width="2" height="2" fill="#808080"/>
<rect x="229" y="221" width="2" height="2" fill="#808080"/>
<rect x="237" y="214" width="2" height="2" fill="#808080"/>
<rect x="235" y="218" width="2" height="2" fill="#808080"/>
<rect x="106" y="65" width="2" height="2" fill="#00ff00"/>
<rect x="113" y="72" width="2" height="2" fill="#00ff00"/>
<rect x="88" y="79" width="2" height="2" fill="#00ff00"/>
<rect x="91" y="79" width="2" height="2" fill="#00ff00"/>
<rect x="109" y="79" width="2" height="2" fill="#00ff00"/>
<rect x="121" y="78" width="2" height="2" fill="#00ff00"/>
<rect x="127" y="86" width="2" height="2" fill="#00ff00"/>
<rect x="109" y="90" width="2" height="2" fill="#00ff00"/>
<rect x="92" y="94" width="2" height="2" fill="#00ff00"/>
<rect x="121" y="92" width="2" height="2" fill="#00ff00"/>
<rect x="125" y="92" width="2" height="2" fill="#00ff00"/>
<rect x="123" y="99" width="2" height="2" fill="#00ff00"/>
<rect x="120" y="103" width="2" height="2" fill="#00ff00"/>
<rect x="120" y="101" width="2" height="2" fill="#00ff00"/>
<rect x="126" y="104" width="2" height="2" fill="#00ff00"/>
<rect x="101" y="106" width="2" height="2" fill="#00ff00"/>
<rect x="103" y="108" width="2" height="2" fill="#00ff00"/>
<rect x="105" y="109" width="2" height="2" fill="#00ff00"/>
<rect x="98" y="111" width="2" height="2" fill="#00ff00"/>
<rect x="109" y="111" width="2" height="2" fill="#00ff00"/>
<rect x="81" y="115" width="2" height="2" fill="#00ff00"/>
<rect x="87" y="115" width="2" height="2" fill="#00ff00"/>
<rect x="125" y="113" width="2" height="2" fill="#00ff00"/>
<rect x="105" y="119" width="2" height="2" fill="#00ff00"/>
<rect x="102" y="123" width="2" height="2" fill="#00ff00"/>
<rect x="113" y="121" width="2" height="2" fill="#00ff00"/>
<rect x="124" y="120" width="2" height="2" fill="#00ff00"/>
<rect x="120" y="129" width="2" height="2" fill="#00ff00"/>
<rect x="107" y="132" width="2" height="2" fill="#00ff00"/>
<rect x="85" y="146" width="2" height="2" fill="#00ff00"/>
<rect x="106" y="132" width="2" height="2" fill="#00ff00"/>
<rect x="120" y="143" width="2" height="2" fill="#00ff00"/>
<rect x="119" y="150" width="2" height="2" fill="#00ff00"/>
<rect x="121" y="147" width="2" height="2" fill="#00ff00"/>
<rect x="124" y="150" width="2" height="2" fill="#00ff00"/>
<rect x="125" y="152" width="2" height="2" fill="#00ff00"/>
<rect x="121" y="186" width="2" height="2" fill="#00ff00"/>
<rect x="80" y="190" width="2" height="2" fill="#00ff00"/>
<rect x="149" y="58" width="2" height="2" fill="#00ff00"/>
<rect x="153" y="56" width="2" height="2" fill="#00ff00"/>
<rect x="155" y="56" width="2" height="2" fill="#00ff00"/>
<rect x="134" y="65" width="2" height="2" fill="#00ff00"/>
<rect x="135" y="70" width="2" height="2" fill="#00ff00"/>
<rect x="166" y="72" width="2" height="2" fill="#00ff00"/>
<rect x="138" y="89" width="2" height="2" fill="#00ff00"/>
<rect x="141" y="88" width="2" height="2" fill="#00ff00"/>
<rect x="150" y="86" width="2" height="2" fill="#00ff00"/>
<rect x="157" y="85" width="2" height="2" fill="#00ff00"/>
<rect x="163" y="88" width="2" height="2" fill="#00ff00"/>
<rect x="165" y="88" width="2" height="2" fill="#00ff00"/>
<rect x="144" y="90" width="2" height="2" fill="#00ff00"/>
<rect x="146" y="90" width="2" height="2" fill="#00ff00"/>
<rect x="148" y="90" width="2" height="2" fill="#00ff00"/>
<rect x="150" y="90" width="2" height="2" fill="#00ff00"/>
<rect x="138" y="88" width="2" height="2" fill="#00ff00"/>
<rect x="158" y="85" width="2" height="2" fill="#00ff00"/>
<rect x="143" y="91" width="2" height="2" fill="#00ff00"/>
<rect x="145" y="90" width="2" height="2" fill="#00ff00"/>
<rect x="150" y="91" width="2" height="2" fill="#00ff00"/>
<rect x="151" y="92" width="2" height="2" fill="#00ff00"/>
<rect x="160" y="93" width="2" height="2" fill="#00ff00"/>
<rect x="160" y="95" width="2" height="2" fill="#00ff00"/>
<rect x="165" y="90" width="2" height="2" fill="#00ff00"/>
<rect x="166" y="90" width="2" height="2" fill="#00ff00"/>
<rect x="168" y="93" width="2" height="2" fill="#00ff00"/>
<rect x="147" y="96" width="2" height="2" fill="#00ff00"/>
<rect x="136" y="98" width="2" height="2" fill="#00ff00"/>
<rect x="135" y="100" width="2" height="2" fill="#00ff00"/>
<rect x="165" y="99" width="2" height="2" fill="#00ff00"/>
<rect x="148" y="102" width="2" height="2" fill="#00ff00"/>
<rect x="159" y="102" width="2" height="2" fill="#00ff00"/>
<rect x="160" y="103" width="2" height="2" fill="#00ff00"/>
<rect x="162" y="104" width="2" height="2" fill="#00ff00"/>
<rect x="167" y="102" width="2" height="2" fill="#00ff00"/>
<rect x="168" y="103" width="2" height="2" fill="#00ff00"/>
<rect x="132" y="105" width="2" height="2" fill="#00ff00"/>
<rect x="131" y="106" width="2" height="2" fill="#00ff00"/>
<rect x="134" y="104" width="2" height="2" fill="#00ff00"/>
<rect x="135" y="106" width="2" height="2" fill="#00ff00"/>
<rect x="136" y="106" width="2" height="2" fill="#00ff00"/>
<rect x="133" y="106" width="2" height="2" fill="#00ff00"/>
<rect x="151" y="106" width="2" height="2" fill="#00ff00"/>
<rect x="152" y="107" width="2" height="2" fill="#00ff00"/>
<rect x="153" y="106" width="2" height="2" fill="#00ff00"/>
<rect x="166" y="108" width="2" height="2" fill="#00ff00"/>
<rect x="157" y="110" width="2" height="2" fill="#00ff00"/>
<rect x="156" y="112" width="2" height="2" fill="#00ff00"/>
<rect x="156" y="113" width="2" height="2" fill="#00ff00"/>
<rect x="138" y="112" width="2" height="2" fill="#00ff00"/>
<rect x="160" y="112" width="2" height="2" fill="#00ff00"/>
<rect x="162" y="112" width="2" height="2" fill="#00ff00"/>
<rect x="163" y="112" width="2" height="2" fill="#00ff00"/>
<rect x="164" y="113" width="2" height="2" fill="#00ff00"/>
<rect x="166" y="114" width="2" height="2" fill="#00ff00"/>
<rect x="170" y="115" width="2" height="2" fill="#00ff00"/>
<rect x="142" y="116" width="2" height="2" fill="#00ff00"/>
<rect x="140" y="117" width="2" height="2" fill="#00ff00"/>
<rect x="150" y="116" width="2" height="2" fill="#00ff00"/>
<rect x="160" y="116" width="2" height="2" fill="#00ff00"/>
<rect x="161" y="116" width="2" height="2" fill="#00ff00"/>
<rect x="139" y="120" width="2" height="2" fill="#00ff00"/>
<rect x="150" y="121" width="2" height="2" fill="#00ff00"/>
<rect x="152" y="124" width="2" height="2" fill="#00ff00"/>
<rect x="154" y="124" width="2" height="2" fill="#00ff00"/>
<rect x="157" y="121" width="2" height="2" fill="#00ff00"/>
<rect x="164" y="120" width="2" height="2" fill="#00ff00"/>
<rect x="169" y="119" width="2" height="2" fill="#00ff00"/>
<rect x="132" y="123" width="2" height="2" fill="#00ff00"/>
<rect x="157" y="125" width="2" height="2" fill="#00ff00"/>
<rect x="162" y="123" width="2" height="2" fill="#00ff00"/>
<rect x="168" y="123" width="2" height="2" fill="#00ff00"/>
<rect x="169" y="124" width="2" height="2" fill="#00ff00"/>
<rect x="140" y="126" width="2" height="2" fill="#00ff00"/>
<rect x="143" y="126" width="2" height="2" fill="#00ff00"/>
<rect x="140" y="128" width="2" height="2" fill="#00ff00"/>
<rect x="162" y="128" width="2" height="2" fill="#00ff00"/>
<rect x="164" y="128" width="2" height="2" fill="#00ff00"/>
<rect x="168" y="128" width="2" height="2" fill="#00ff00"/>
<rect x="132" y="130" width="2" height="2" fill="#00ff00"/>
<rect x="140" y="129" width="2" height="2" fill="#00ff00"/>
<rect x="140" y="130" width="2" height="2" fill="#00ff00"/>
<rect x="143" y="130" width="2" height="2" fill="#00ff00"/>
<rect x="144" y="131" width="2" height="2" fill="#00ff00"/>
<rect x="146" y="130" width="2" height="2" fill="#00ff00"/>
<rect x="149" y="132" width="2" height="2" fill="#00ff00"/>
<rect x="150" y="133" width="2" height="2" fill="#00ff00"/>
<rect x="152" y="134" width="2" height="2" fill="#00ff00"/>
<rect x="159" y="128" width="2" height="2" fill="#00ff00"/>
<rect x="160" y="128" width="2" height="2" fill="#00ff00"/>
<rect x="162" y="129" width="2" height="2" fill="#00ff00"/>
<rect x="164" y="130" width="2" height="2" fill="#00ff00"/>
<rect x="167" y="129" width="2" height="2" fill="#00ff00"/>
<rect x="168" y="130" width="2" height="2" fill="#00ff00"/>
<rect x="169" y="132" width="2" height="2" fill="#00ff00"/>
<rect x="159" y="132" width="2" height="2" fill="#00ff00"/>
<rect x="160" y="133" width="2" height="2" fill="#00ff00"/>
<rect x="162" y="134" width="2" height="2" fill="#00ff00"/>
<rect x="163" y="133" width="2" height="2" fill="#00ff00"/>
<rect x="164" y="134" width="2" height="2" fill="#00ff00"/>
<rect x="166" y="135" width="2" height="2" fill="#00ff00"/>
<rect x="138" y="135" width="2" height="2" fill="#00ff00"/>
<rect x="142" y="132" width="2" height="2" fill="#00ff00"/>
<rect x="153" y="135" width="2" height="2" fill="#00ff00"/>
<rect x="154" y="136" width="2" height="2" fill="#00ff00"/>
<rect x="156" y="136" width="2" height="2" fill="#00ff00"/>
<rect x="157" y="137" width="2" height="2" fill="#00ff00"/>
<rect x="148" y="136" width="2" height="2" fill="#00ff00"/>
<rect x="167" y="136" width="2" height="2" fill="#00ff00"/>
<rect x="168" y="137" width="2" height="2" fill="#00ff00"/>
<rect x="132" y="141" width="2" height="2" fill="#00ff00"/>
<rect x="142" y="142" width="2" height="2" fill="#00ff00"/>
<rect x="142" y="144" width="2" height="2" fill="#00ff00"/>
<rect x="148" y="141" width="2" height="2" fill="#00ff00"/>
<rect x="152" y="142" width="2" height="2" fill="#00ff00"/>
<rect x="154" y="144" width="2" height="2" fill="#00ff00"/>
<rect x="155" y="144" width="2" height="2" fill="#00ff00"/>
<rect x="158" y="142" width="2" height="2" fill="#00ff00"/>
<rect x="159" y="143" width="2" height="2" fill="#00ff00"/>
<rect x="160" y="144" width="2" height="2" fill="#00ff00"/>
<rect x="162" y="144" width="2" height="2" fill="#00ff00"/>
<rect x="164" y="141" width="2" height="2" fill="#00ff00"/>
<rect x="165" y="142" width="2" height="2" fill="#00ff00"/>
<rect x="166" y="144" width="2" height="2" fill="#00ff00"/>
<rect x="168" y="146" width="2" height="2" fill="#00ff00"/>
<rect x="156" y="147" width="2" height="2" fill="#00ff00"/>
<rect x="156" y="148" width="2" height="2" fill="#00ff00"/>
<rect x="159" y="147" width="2" height="2" fill="#00ff00"/>
<rect x="160" y="148" width="2" height="2" fill="#00ff00"/>
<rect x="162" y="149" width="2" height="2" fill="#00ff00"/>
<rect x="164" y="150" width="2" height="2" fill="#00ff00"/>
<rect x="166" y="148" width="2" height="2" fill="#00ff00"/>
<rect x="168" y="149" width="2" height="2" fill="#00ff00"/>
<rect x="169" y="150" width="2" height="2" fill="#00ff00"/>
<rect x="148" y="148" width="2" height="2" fill="#00ff00"/>
<rect x="149" y="148" width="2" height="2" fill="#00ff00"/>
<rect x="135" y="150" width="2" height="2" fill="#00ff00"/>
<rect x="139" y="150" width="2" height="2" fill="#00ff00"/>
<rect x="144" y="150" width="2" height="2" fill="#00ff00"/>
<rect x="146" y="152" width="2" height="2" fill="#00ff00"/>
<rect x="146" y="153" width="2" height="2" fill="#00ff00"/>
<rect x="150" y="154" width="2" height="2" fill="#00ff00"/>
<rect x="152" y="155" width="2" height="2" fill="#00ff00"/>
<rect x="154" y="156" width="2" height="2" fill="#00ff00"/>
<rect x="156" y="154" width="2" height="2" fill="#00ff00"/>
<rect x="158" y="153" width="2" height="2" fill="#00ff00"/>
<rect x="161" y="150" width="2" height="2" fill="#00ff00"/>
<rect x="162" y="152" width="2" height="2" fill="#00ff00"/>
<rect x="164" y="152" width="2" height="2" fill="#00ff00"/>
<rect x="165" y="153" width="2" height="2" fill="#00ff00"/>
<rect x="168" y="153" width="2" height="2" fill="#00ff00"/>
<rect x="169" y="152" width="2" height="2" fill="#00ff00"/>
<rect x="137" y="156" width="2" height="2" fill="#00ff00"/>
<rect x="144" y="158" width="2" height="2" fill="#00ff00"/>
<rect x="149" y="159" width="2" height="2" fill="#00ff00"/>
<rect x="150" y="160" width="2" height="2" fill="#00ff00"/>
<rect x="152" y="159" width="2" height="2" fill="#00ff00"/>
<rect x="156" y="158" width="2" height="2" fill="#00ff00"/>
<rect x="157" y="160" width="2" height="2" fill="#00ff00"/>
<rect x="162" y="158" width="2" height="2" fill="#00ff00"/>
<rect x="164" y="158" width="2" height="2" fill="#00ff00"/>
<rect x="166" y="159" width="2" height="2" fill="#00ff00"/>
<rect x="169" y="155" width="2" height="2" fill="#00ff00"/>
<rect x="170" y="156" width="2" height="2" fill="#00ff00"/>
<rect x="134" y="162" width="2" height="2" fill="#00ff00"/>
<rect x="140" y="162" width="2" height="2" fill="#00ff00"/>
<rect x="144" y="164" width="2" height="2" fill="#00ff00"/>
<rect x="152" y="163" width="2" height="2" fill="#00ff00"/>
<rect x="154" y="164" width="2" height="2" fill="#00ff00"/>
<rect x="162" y="162" width="2" height="2" fill="#00ff00"/>
<rect x="162" y="164" width="2" height="2" fill="#00ff00"/>
<rect x="164" y="165" width="2" height="2" fill="#00ff00"/>
<rect x="166" y="162" width="2" height="2" fill="#00ff00"/>
<rect x="169" y="163" width="2" height="2" fill="#00ff00"/>
<rect x="168" y="165" width="2" height="2" fill="#00ff00"/>
<rect x="139" y="165" width="2" height="2" fill="#00ff00"/>
<rect x="149" y="165" width="2" height="2" fill="#00ff00"/>
<rect x="153" y="166" width="2" height="2" fill="#00ff00"/>
<rect x="153" y="167" width="2" height="2" fill="#00ff00"/>
<rect x="155" y="167" width="2" height="2" fill="#00ff00"/>
<rect x="159" y="165" width="2" height="2" fill="#00ff00"/>
<rect x="163" y="166" width="2" height="2" fill="#00ff00"/>
<rect x="164" y="167" width="2" height="2" fill="#00ff00"/>
<rect x="166" y="167" width="2" height="2" fill="#00ff00"/>
<rect x="167" y="166" width="2" height="2" fill="#00ff00"/>
<rect x="168" y="168" width="2" height="2" fill="#00ff00"/>
<rect x="146" y="170" width="2" height="2" fill="#00ff00"/>
<rect x="151" y="169" width="2" height="2" fill="#00ff00"/>
<rect x="153" y="172" width="2" height="2" fill="#00ff00"/>
<rect x="153" y="173" width="2" height="2" fill="#00ff00"/>
<rect x="156" y="172" width="2" height="2" fill="#00ff00"/>
<rect x="157" y="170" width="2" height="2" fill="#00ff00"/>
<rect x="158" y="170" width="2" height="2" fill="#00ff00"/>
<rect x="159" y="173" width="2" height="2" fill="#00ff00"/>
<rect x="156" y="173" width="2" height="2" fill="#00ff00"/>
<rect x="163" y="169" width="2" height="2" fill="#00ff00"/>
<rect x="164" y="171" width="2" height="2" fill="#00ff00"/>
<rect x="164" y="172" width="2" height="2" fill="#00ff00"/>
<rect x="169" y="170" width="2" height="2" fill="#00ff00"/>
<rect x="169" y="173" width="2" height="2" fill="#00ff00"/>
<rect x="150" y="176" width="2" height="2" fill="#00ff00"/>
<rect x="148" y="177" width="2" height="2" fill="#00ff00"/>
<rect x="153" y="175" width="2" height="2" fill="#00ff00"/>
<rect x="154" y="176" width="2" height="2" fill="#00ff00"/>
<rect x="156" y="177" width="2" height="2" fill="#00ff00"/>
<rect x="157" y="178" width="2" height="2" fill="#00ff00"/>
<rect x="160" y="177" width="2" height="2" fill="#00ff00"/>
<rect x="164" y="180" width="2" height="2" fill="#00ff00"/>
<rect x="159" y="182" width="2" height="2" fill="#00ff00"/>
<rect x="144" y="182" width="2" height="2" fill="#00ff00"/>
<rect x="166" y="182" width="2" height="2" fill="#00ff00"/>
<rect x="167" y="183" width="2" height="2" fill="#00ff00"/>
<rect x="168" y="182" width="2" height="2" fill="#00ff00"/>
<rect x="169" y="183" width="2" height="2" fill="#00ff00"/>
<rect x="163" y="185" width="2" height="2" fill="#00ff00"/>
<rect x="160" y="188" width="2" height="2" fill="#00ff00"/>
<rect x="161" y="190" width="2" height="2" fill="#00ff00"/>
<rect x="162" y="188" width="2" height="2" fill="#00ff00"/>
<rect x="166" y="189" width="2" height="2" fill="#00ff00"/>
<rect x="167" y="187" width="2" height="2" fill="#00ff00"/>
<rect x="167" y="190" width="2" height="2" fill="#00ff00"/>
<rect x="168" y="188" width="2" height="2" fill="#00ff00"/>
<rect x="165" y="191" width="2" height="2" fill="#00ff00"/>
<rect x="170" y="186" width="2" height="2" fill="#00ff00"/>
<rect x="169" y="188" width="2" height="2" fill="#00ff00"/>
<rect x="163" y="163" width="2" height="2" fill="#00ff00"/>
<rect x="156" y="164" width="2" height="2" fill="#00ff00"/>
<rect x="165" y="116" width="2" height="2" fill="#00ff00"/>
<rect x="155" y="98" width="2" height="2" fill="#00ff00"/>
<rect x="163" y="108" width="2" height="2" fill="#00ff00"/>
<rect x="169" y="97" width="2" height="2" fill="#00ff00"/>
<rect x="165" y="168" width="2" height="2" fill="#00ff00"/>
<rect x="166" y="170" width="2" height="2" fill="#00ff00"/>
<rect x="159" y="170" width="2" height="2" fill="#00ff00"/>
<rect x="164" y="149" width="2" height="2" fill="#00ff00"/>
<rect x="166" y="178" width="2" height="2" fill="#00ff00"/>
<rect x="160" y="107" width="2" height="2" fill="#00ff00"/>
<rect x="169" y="169" width="2" height="2" fill="#00ff00"/>
<rect x="152" y="123" width="2" height="2" fill="#00ff00"/>
<rect x="153" y="115" width="2" height="2" fill="#00ff00"/>
<rect x="170" y="116" width="2" height="2" fill="#00ff00"/>
<rect x="153" y="141" width="2" height="2" fill="#00ff00"/>
<rect x="160" y="104" width="2" height="2" fill="#00ff00"/>
<rect x="155" y="150" width="2" height="2" fill="#00ff00"/>
<rect x="166" y="188" width="2" height="2" fill="#00ff00"/>
<rect x="168" y="163" width="2" height="2" fill="#00ff00"/>
<rect x="157" y="183" width="2" height="2" fill="#00ff00"/>
<rect x="158" y="152" width="2" height="2" fill="#00ff00"/>
<rect x="156" y="99" width="2" height="2" fill="#00ff00"/>
<rect x="165" y="173" width="2" height="2" fill="#00ff00"/>
<rect x="167" y="172" width="2" height="2" fill="#00ff00"/>
<rect x="162" y="143" width="2" height="2" fill="#00ff00"/>
<rect x="158" y="154" width="2" height="2" fill="#00ff00"/>
<rect x="158" y="186" width="2" height="2" fill="#00ff00"/>
<rect x="164" y="135" width="2" height="2" fill="#00ff00"/>
<rect x="166" y="142" width="2" height="2" fill="#00ff00"/>
<rect x="158" y="188" width="2" height="2" fill="#00ff00"/>
<rect x="170" y="149" width="2" height="2" fill="#00ff00"/>
<rect x="160" y="190" width="2" height="2" fill="#00ff00"/>
<rect x="167" y="107" width="2" height="2" fill="#00ff00"/>
<rect x="166" y="164" width="2" height="2" fill="#00ff00"/>
<rect x="159" y="118" width="2" height="2" fill="#00ff00"/>
<rect x="158" y="130" width="2" height="2" fill="#00ff00"/>
<rect x="154" y="116" width="2" height="2" fill="#00ff00"/>
<rect x="166" y="146" width="2" height="2" fill="#00ff00"/>
<rect x="153" y="114" width="2" height="2" fill="#00ff00"/>
<rect x="155" y="163" width="2" height="2" fill="#00ff00"/>
<rect x="162" y="99" width="2" height="2" fill="#00ff00"/>
<rect x="161" y="137" width="2" height="2" fill="#00ff00"/>
<rect x="165" y="158" width="2" height="2" fill="#00ff00"/>
<rect x="161" y="123" width="2" height="2" fill="#00ff00"/>
<rect x="152" y="101" width="2" height="2" fill="#00ff00"/>
<rect x="161" y="165" width="2" height="2" fill="#00ff00"/>
<rect x="159" y="97" width="2" height="2" fill="#00ff00"/>
<rect x="158" y="114" width="2" height="2" fill="#00ff00"/>
<rect x="153" y="98" width="2" height="2" fill="#00ff00"/>
<rect x="158" y="187" width="2" height="2" fill="#00ff00"/>
<rect x="164" y="119" width="2" height="2" fill="#00ff00"/>
<rect x="158" y="111" width="2" height="2" fill="#00ff00"/>
<rect x="162" y="131" width="2" height="2" fill="#00ff00"/>
<rect x="167" y="182" width="2" height="2" fill="#00ff00"/>
<rect x="156" y="101" width="2" height="2" fill="#00ff00"/>
<rect x="159" y="111" width="2" height="2" fill="#00ff00"/>
<rect x="158" y="139" width="2" height="2" fill="#00ff00"/>
<rect x="144" y="174" width="2" height="2" fill="#00ff00"/>
<rect x="151" y="175" width="2" height="2" fill="#00ff00"/>
<rect x="143" y="107" width="2" height="2" fill="#00ff00"/>
<rect x="148" y="158" width="2" height="2" fill="#00ff00"/>
<rect x="139" y="159" width="2" height="2" fill="#00ff00"/>
<rect x="141" y="147" width="2" height="2" fill="#00ff00"/>
<rect x="147" y="151" width="2" height="2" fill="#00ff00"/>
<rect x="143" y="128" width="2" height="2" fill="#00ff00"/>
<rect x="151" y="160" width="2" height="2" fill="#00ff00"/>
<rect x="141" y="168" width="2" height="2" fill="#00ff00"/>
<rect x="146" y="161" width="2" height="2" fill="#00ff00"/>
<rect x="150" y="167" width="2" height="2" fill="#00ff00"/>
<rect x="141" y="102" width="2" height="2" fill="#00ff00"/>
<rect x="148" y="113" width="2" height="2" fill="#00ff00"/>
<rect x="152" y="182" width="2" height="2" fill="#00ff00"/>
<rect x="145" y="113" width="2" height="2" fill="#00ff00"/>
<rect x="144" y="110" width="2" height="2" fill="#00ff00"/>
<rect x="148" y="147" width="2" height="2" fill="#00ff00"/>
<rect x="151" y="177" width="2" height="2" fill="#00ff00"/>
<rect x="137" y="150" width="2" height="2" fill="#00ff00"/>
<rect x="150" y="140" width="2" height="2" fill="#00ff00"/>
<rect x="138" y="136" width="2" height="2" fill="#00ff00"/>
<rect x="140" y="148" width="2" height="2" fill="#00ff00"/>
<rect x="151" y="189" width="2" height="2" fill="#00ff00"/>
<rect x="145" y="136" width="2" height="2" fill="#00ff00"/>
<rect x="241" y="108" width="2" height="2" fill="#ff0000"/>
<rect x="242" y="109" width="2" height="2" fill="#ff0000"/>
<rect x="244" y="110" width="2" height="2" fill="#ff0000"/>
<rect x="240" y="110" width="2" height="2" fill="#ff0000"/>
<rect x="247" y="109" width="2" height="2" fill="#ff0000"/>
<rect x="249" y="112" width="2" height="2" fill="#ff0000"/>
<rect x="244" y="114" width="2" height="2" fill="#ff0000"/>
<rect x="247" y="116" width="2" height="2" fill="#ff0000"/>
<rect x="246" y="118" width="2" height="2" fill="#ff0000"/>
<rect x="249" y="120" width="2" height="2" fill="#ff0000"/>
<rect x="250" y="120" width="2" height="2" fill="#ff0000"/>
<rect x="250" y="119" width="2" height="2" fill="#ff0000"/>
<rect x="261" y="119" width="2" height="2" fill="#ff0000"/>
<rect x="254" y="122" width="2" height="2" fill="#ff0000"/>
<rect x="257" y="124" width="2" height="2" fill="#ff0000"/>
<rect x="260" y="123" width="2" height="2" fill="#ff0000"/>
<rect x="260" y="124" width="2" height="2" fill="#ff0000"/>
<rect x="241" y="124" width="2" height="2" fill="#ff0000"/>
<rect x="243" y="123" width="2" height="2" fill="#ff0000"/>
<rect x="244" y="124" width="2" height="2" fill="#ff0000"/>
<rect x="250" y="125" width="2" height="2" fill="#ff0000"/>
<rect x="252" y="126" width="2" height="2" fill="#ff0000"/>
<rect x="250" y="126" width="2" height="2" fill="#ff0000"/>
<rect x="240" y="127" width="2" height="2" fill="#ff0000"/>
<rect x="242" y="128" width="2" height="2" fill="#ff0000"/>
<rect x="244" y="128" width="2" height="2" fill="#ff0000"/>
<rect x="246" y="127" width="2" height="2" fill="#ff0000"/>
<rect x="247" y="128" width="2" height="2" fill="#ff0000"/>
<rect x="240" y="130" width="2" height="2" fill="#ff0000"/>
<rect x="242" y="130" width="2" height="2" fill="#ff0000"/>
<rect x="245" y="131" width="2" height="2" fill="#ff0000"/>
<rect x="248" y="130" width="2" height="2" fill="#ff0000"/>
<rect x="253" y="130" width="2" height="2" fill="#ff0000"/>
<rect x="254" y="129" width="2" height="2" fill="#ff0000"/>
<rect x="260" y="130" width="2" height="2" fill="#ff0000"/>
<rect x="264" y="130" width="2" height="2" fill="#ff0000"/>
<rect x="265" y="132" width="2" height="2" fill="#ff0000"/>
<rect x="263" y="133" width="2" height="2" fill="#ff0000"/>
<rect x="262" y="134" width="2" height="2" fill="#ff0000"/>
<rect x="254" y="134" width="2" height="2" fill="#ff0000"/>
<rect x="250" y="135" width="2" height="2" fill="#ff0000"/>
<rect x="258" y="136" width="2" height="2" fill="#ff0000"/>
<rect x="241" y="134" width="2" height="2" fill="#ff0000"/>
<rect x="243" y="135" width="2" height="2" fill="#ff0000"/>
<rect x="240" y="136" width="2" height="2" fill="#ff0000"/>
<rect x="245" y="136" width="2" height="2" fill="#ff0000"/>
<rect x="247" y="135" width="2" height="2" fill="#ff0000"/>
<rect x="248" y="138" width="2" height="2" fill="#ff0000"/>
<rect x="242" y="138" width="2" height="2" fill="#ff0000"/>
<rect x="251" y="138" width="2" height="2" fill="#ff0000"/>
<rect x="256" y="138" width="2" height="2" fill="#ff0000"/>
<rect x="242" y="104" width="2" height="2" fill="#ff0000"/>
<rect x="244" y="106" width="2" height="2" fill="#ff0000"/>
<rect x="265" y="142" width="2" height="2" fill="#ff0000"/>
<rect x="266" y="144" width="2" height="2" fill="#ff0000"/>
<rect x="273" y="140" width="2" height="2" fill="#ff0000"/>
<rect x="283" y="150" width="2" height="2" fill="#ff0000"/>
<rect x="266" y="150" width="2" height="2" fill="#ff0000"/>
<rect x="269" y="149" width="2" height="2" fill="#ff0000"/>
<rect x="267" y="154" width="2" height="2" fill="#ff0000"/>
<rect x="273" y="154" width="2" height="2" fill="#ff0000"/>
<rect x="274" y="154" width="2" height="2" fill="#ff0000"/>
<rect x="272" y="156" width="2" height="2" fill="#ff0000"/>
<rect x="260" y="159" width="2" height="2" fill="#ff0000"/>
<rect x="261" y="158" width="2" height="2" fill="#ff0000"/>
<rect x="263" y="158" width="2" height="2" fill="#ff0000"/>
<rect x="269" y="157" width="2" height="2" fill="#ff0000"/>
<rect x="268" y="159" width="2" height="2" fill="#ff0000"/>
<rect x="269" y="160" width="2" height="2" fill="#ff0000"/>
<rect x="271" y="160" width="2" height="2" fill="#ff0000"/>
<rect x="257" y="154" width="2" height="2" fill="#ff0000"/>
<rect x="258" y="155" width="2" height="2" fill="#ff0000"/>
<rect x="266" y="166" width="2" height="2" fill="#ff0000"/>
<rect x="266" y="170" width="2" height="2" fill="#ff0000"/>
<rect x="274" y="173" width="2" height="2" fill="#ff0000"/>
<rect x="255" y="174" width="2" height="2" fill="#ff0000"/>
<rect x="256" y="164" width="2" height="2" fill="#ff0000"/>
<rect x="255" y="168" width="2" height="2" fill="#ff0000"/>
<rect x="274" y="174" width="2" height="2" fill="#ff0000"/>
<rect x="261" y="179" width="2" height="2" fill="#ff0000"/>
<rect x="250" y="186" width="2" height="2" fill="#ff0000"/>
<rect x="258" y="186" width="2" height="2" fill="#ff0000"/>
<rect x="255" y="190" width="2" height="2" fill="#ff0000"/>
<rect x="244" y="190" width="2" height="2" fill="#ff0000"/>
<rect x="247" y="188" width="2" height="2" fill="#ff0000"/>
<rect x="248" y="174" width="2" height="2" fill="#ff0000"/>
<rect x="241" y="166" width="2" height="2" fill="#ff0000"/>
<rect x="243" y="186" width="2" height="2" fill="#ff0000"/>
<rect x="245" y="174" width="2" height="2" fill="#ff0000"/>
<rect x="249" y="143" width="2" height="2" fill="#ff0000"/>
<rect x="242" y="149" width="2" height="2" fill="#ff0000"/>
<rect x="244" y="157" width="2" height="2" fill="#ff0000"/>
<rect x="244" y="142" width="2" height="2" fill="#ff0000"/>
<rect x="244" y="154" width="2" height="2" fill="#ff0000"/>
<rect x="241" y="176" width="2" height="2" fill="#ff0000"/>
<rect x="249" y="181" width="2" height="2" fill="#ff0000"/>
<rect x="244" y="181" width="2" height="2" fill="#ff0000"/>
<rect x="245" y="161" width="2" height="2" fill="#ff0000"/>
<rect x="241" y="143" width="2" height="2" fill="#ff0000"/>
<rect x="247" y="177" width="2" height="2" fill="#ff0000"/>
<rect x="243" y="137" width="2" height="2" fill="#ff0000"/>
<rect x="242" y="165" width="2" height="2" fill="#ff0000"/>
<rect x="250" y="174" width="2" height="2" fill="#ff0000"/>
<rect x="240" y="185" width="2" height="2" fill="#ff0000"/>
<rect x="242" y="163" width="2" height="2" fill="#ff0000"/>
<rect x="251" y="153" width="2" height="2" fill="#ff0000"/>
<rect x="242" y="172" width="2" height="2" fill="#ff0000"/>
<rect x="250" y="158" width="2" height="2" fill="#ff0000"/>
<rect x="247" y="182" width="2" height="2" fill="#ff0000"/>
<rect x="241" y="171" width="2" height="2" fill="#ff0000"/>
<rect x="249" y="170" width="2" height="2" fill="#ff0000"/>
<rect x="241" y="178" width="2" height="2" fill="#ff0000"/>
<rect x="240" y="179" width="2" height="2" fill="#ff0000"/>
<rect x="242" y="190" width="2" height="2" fill="#ff0000"/>
<rect x="249" y="163" width="2" height="2" fill="#ff0000"/>
<rect x="243" y="179" width="2" height="2" fill="#ff0000"/>
<rect x="243" y="181" width="2" height="2" fill="#ff0000"/>
<rect x="243" y="178" width="2" height="2" fill="#ff0000"/>
<rect x="242" y="189" width="2" height="2" fill="#ff0000"/>
<rect x="250" y="168" width="2" height="2" fill="#ff0000"/>
<rect x="251" y="170" width="2" height="2" fill="#ff0000"/>
<rect x="245" y="175" width="2" height="2" fill="#ff0000"/>
<rect x="247" y="139" width="2" height="2" fill="#ff0000"/>
<rect x="246" y="186" width="2" height="2" fill="#ff0000"/>
<rect x="246" y="147" width="2" height="2" fill="#ff0000"/>
<rect x="243" y="190" width="2" height="2" fill="#ff0000"/>
<rect x="245" y="151" width="2" height="2" fill="#ff0000"/>
<rect x="247" y="161" width="2" height="2" fill="#ff0000"/>
<rect x="241" y="186" width="2" height="2" fill="#ff0000"/>
<rect x="244" y="184" width="2" height="2" fill="#ff0000"/>
<rect x="248" y="178" width="2" height="2" fill="#ff0000"/>
<rect x="248" y="143" width="2" height="2" fill="#ff0000"/>
<rect x="245" y="158" width="2" height="2" fill="#ff0000"/>
<rect x="248" y="161" width="2" height="2" fill="#ff0000"/>
<rect x="250" y="165" width="2" height="2" fill="#ff0000"/>
<rect x="245" y="172" width="2" height="2" fill="#ff0000"/>
<rect x="246" y="172" width="2" height="2" fill="#ff0000"/>
<rect x="250" y="173" width="2" height="2" fill="#ff0000"/>
<rect x="247" y="172" width="2" height="2" fill="#ff0000"/>
<rect x="251" y="164" width="2" height="2" fill="#ff0000"/>
<rect x="242" y="156" width="2" height="2" fill="#ff0000"/>
<rect x="246" y="177" width="2" height="2" fill="#ff0000"/>
<rect x="244" y="171" width="2" height="2" fill="#ff0000"/>
<rect x="247" y="150" width="2" height="2" fill="#ff0000"/>
<rect x="247" y="160" width="2" height="2" fill="#ff0000"/>
<rect x="245" y="157" width="2" height="2" fill="#ff0000"/>
<rect x="251" y="173" width="2" height="2" fill="#ff0000"/>
<rect x="244" y="178" width="2" height="2" fill="#ff0000"/>
<rect x="244" y="166" width="2" height="2" fill="#ff0000"/>
<rect x="241" y="165" width="2" height="2" fill="#ff0000"/>
<rect x="240" y="175" width="2" height="2" fill="#ff0000"/>
<rect x="248" y="154" width="2" height="2" fill="#ff0000"/>
<rect x="250" y="163" width="2" height="2" fill="#ff0000"/>
<rect x="243" y="155" width="2" height="2" fill="#ff0000"/>
<rect x="250" y="148" width="2" height="2" fill="#ff0000"/>
<rect x="241" y="144" width="2" height="2" fill="#ff0000"/>
<rect x="244" y="152" width="2" height="2" fill="#ff0000"/>
<rect x="240" y="139" width="2" height="2" fill="#ff0000"/>
<rect x="240" y="154" width="2" height="2" fill="#ff0000"/>
<rect x="246" y="187" width="2" height="2" fill="#ff0000"/>
<rect x="242" y="180" width="2" height="2" fill="#ff0000"/>
<rect x="243" y="177" width="2" height="2" fill="#ff0000"/>
<rect x="246" y="158" width="2" height="2" fill="#ff0000"/>
<rect x="246" y="160" width="2" height="2" fill="#ff0000"/>
<rect x="248" y="149" width="2" height="2" fill="#ff0000"/>
<rect x="243" y="166" width="2" height="2" fill="#ff0000"/>
<rect x="248" y="158" width="2" height="2" fill="#ff0000"/>
<rect x="250" y="175" width="2" height="2" fill="#ff0000"/>
<rect x="243" y="173" width="2" height="2" fill="#ff0000"/>
<rect x="245" y="168" width="2" height="2" fill="#ff0000"/>
<rect x="247" y="171" width="2" height="2" fill="#ff0000"/>
<rect x="243" y="184" width="2" height="2" fill="#ff0000"/>
<rect x="247" y="145" width="2" height="2" fill="#ff0000"/>
<rect x="242" y="148" width="2" height="2" fill="#ff0000"/>
<rect x="251" y="162" width="2" height="2" fill="#ff0000"/>
<rect x="249" y="158" width="2" height="2" fill="#ff0000"/>
<rect x="249" y="144" width="2" height="2" fill="#ff0000"/>
<rect x="246" y="157" width="2" height="2" fill="#ff0000"/>
<rect x="248" y="153" width="2" height="2" fill="#ff0000"/>
<rect x="249" y="150" width="2" height="2" fill="#ff0000"/>
<rect x="242" y="173" width="2" height="2" fill="#ff0000"/>
<rect x="240" y="141" width="2" height="2" fill="#ff0000"/>
<rect x="242" y="160" width="2" height="2" fill="#ff0000"/>
<rect x="241" y="156" width="2" height="2" fill="#ff0000"/>
<rect x="244" y="151" width="2" height="2" fill="#ff0000"/>
<rect x="244" y="186" width="2" height="2" fill="#ff0000"/>
<rect x="247" y="181" width="2" height="2" fill="#ff0000"/>
<rect x="243" y="172" width="2" height="2" fill="#ff0000"/>
<rect x="243" y="148" width="2" height="2" fill="#ff0000"/>
<rect x="244" y="148" width="2" height="2" fill="#ff0000"/>
<rect x="247" y="167" width="2" height="2" fill="#ff0000"/>
<rect x="243" y="146" width="2" height="2" fill="#ff0000"/>
<rect x="241" y="141" width="2" height="2" fill="#ff0000"/>
<rect x="246" y="139" width="2" height="2" fill="#ff0000"/>
<rect x="241" y="189" width="2" height="2" fill="#ff0000"/>
<rect x="240" y="174" width="2" height="2" fill="#ff0000"/>
<rect x="244" y="161" width="2" height="2" fill="#ff0000"/>
<rect x="247" y="179" width="2" height="2" fill="#ff0000"/>
<rect x="250" y="156" width="2" height="2" fill="#ff0000"/>
<rect x="243" y="153" width="2" height="2" fill="#ff0000"/>
<rect x="249" y="173" width="2" height="2" fill="#ff0000"/>
<rect x="244" y="162" width="2" height="2" fill="#ff0000"/>
<rect x="249" y="155" width="2" height="2" fill="#ff0000"/>
<rect x="249" y="145" width="2" height="2" fill="#ff0000"/>
<rect x="247" y="155" width="2" height="2" fill="#ff0000"/>
<rect x="247" y="162" width="2" height="2" fill="#ff0000"/>
<rect x="243" y="185" width="2" height="2" fill="#ff0000"/>
<rect x="241" y="147" width="2" height="2" fill="#ff0000"/>
<rect x="242" y="159" width="2" height="2" fill="#ff0000"/>
<rect x="242" y="171" width="2" height="2" fill="#ff0000"/>
<rect x="241" y="168" width="2" height="2" fill="#ff0000"/>
<rect x="246" y="167" width="2" height="2" fill="#ff0000"/>
<rect x="248" y="140" width="2" height="2" fill="#ff0000"/>
<rect x="250" y="178" width="2" height="2" fill="#ff0000"/>
<rect x="249" y="179" width="2" height="2" fill="#ff0000"/>
<rect x="248" y="172" width="2" height="2" fill="#ff0000"/>
<rect x="251" y="166" width="2" height="2" fill="#ff0000"/>
<rect x="242" y="158" width="2" height="2" fill="#ff0000"/>
<rect x="248" y="141" width="2" height="2" fill="#ff0000"/>
<rect x="242" y="153" width="2" height="2" fill="#ff0000"/>
<rect x="246" y="178" width="2" height="2" fill="#ff0000"/>
<rect x="244" y="146" width="2" height="2" fill="#ff0000"/>
<rect x="240" y="166" width="2" height="2" fill="#ff0000"/>
<rect x="244" y="147" width="2" height="2" fill="#ff0000"/>
<rect x="243" y="163" width="2" height="2" fill="#ff0000"/>
<rect x="249" y="161" width="2" height="2" fill="#ff0000"/>
<rect x="240" y="153" width="2" height="2" fill="#ff0000"/>
<rect x="246" y="171" width="2" height="2" fill="#ff0000"/>
<rect x="241" y="155" width="2" height="2" fill="#ff0000"/>
<rect x="251" y="159" width="2" height="2" fill="#ff0000"/>
<rect x="240" y="150" width="2" height="2" fill="#ff0000"/>
<rect x="241" y="183" width="2" height="2" fill="#ff0000"/>
<rect x="248" y="166" width="2" height="2" fill="#ff0000"/>
<rect x="251" y="149" width="2" height="2" fill="#ff0000"/>
<rect x="249" y="154" width="2" height="2" fill="#ff0000"/>
<rect x="245" y="183" width="2" height="2" fill="#ff0000"/>
<rect x="247" y="166" width="2" height="2" fill="#ff0000"/>
<rect x="249" y="168" width="2" height="2" fill="#ff0000"/>
<rect x="250" y="171" width="2" height="2" fill="#ff0000"/>
<rect x="241" y="139" width="2" height="2" fill="#ff0000"/>
<rect x="242" y="188" width="2" height="2" fill="#ff0000"/>
<rect x="248" y="162" width="2" height="2" fill="#ff0000"/>
<rect x="241" y="179" width="2" height="2" fill="#ff0000"/>
<rect x="246" y="154" width="2" height="2" fill="#ff0000"/>
<rect x="246" y="168" width="2" height="2" fill="#ff0000"/>
<rect x="243" y="168" width="2" height="2" fill="#ff0000"/>
<rect x="245" y="180" width="2" height="2" fill="#ff0000"/>
<rect x="250" y="146" width="2" height="2" fill="#ff0000"/>
<rect x="248" y="179" width="2" height="2" fill="#ff0000"/>
<rect x="244" y="141" width="2" height="2" fill="#ff0000"/>
<rect x="242" y="185" width="2" height="2" fill="#ff0000"/>
<rect x="243" y="189" width="2" height="2" fill="#ff0000"/>
<rect x="246" y="159" width="2" height="2" fill="#ff0000"/>
<rect x="247" y="176" width="2" height="2" fill="#ff0000"/>
<rect x="244" y="179" width="2" height="2" fill="#ff0000"/>
<rect x="241" y="145" width="2" height="2" fill="#ff0000"/>
<rect x="245" y="145" width="2" height="2" fill="#ff0000"/>
<rect x="249" y="151" width="2" height="2" fill="#ff0000"/>
<rect x="249" y="160" width="2" height="2" fill="#ff0000"/>
<rect x="243" y="147" width="2" height="2" fill="#ff0000"/>
<rect x="246" y="144" width="2" height="2" fill="#ff0000"/>
<rect x="249" y="141" width="2" height="2" fill="#ff0000"/>
<rect x="250" y="164" width="2" height="2" fill="#ff0000"/>
<rect x="242" y="151" width="2" height="2" fill="#ff0000"/>
<rect x="245" y="177" width="2" height="2" fill="#ff0000"/>
<rect x="251" y="157" width="2" height="2" fill="#ff0000"/>
<rect x="250" y="172" width="2" height="2" fill="#ff0000"/>
<rect x="243" y="152" width="2" height="2" fill="#ff0000"/>
<rect x="240" y="186" width="2" height="2" fill="#ff0000"/>
<rect x="241" y="162" width="2" height="2" fill="#ff0000"/>
<rect x="245" y="190" width="2" height="2" fill="#ff0000"/>
<rect x="247" y="142" width="2" height="2" fill="#ff0000"/>
<rect x="250" y="149" width="2" height="2" fill="#ff0000"/>
<rect x="244" y="164" width="2" height="2" fill="#ff0000"/>
<rect x="240" y="189" width="2" height="2" fill="#ff0000"/>
<rect x="241" y="157" width="2" height="2" fill="#ff0000"/>
<rect x="244" y="138" width="2" height="2" fill="#ff0000"/>
<rect x="246" y="181" width="2" height="2" fill="#ff0000"/>
<rect x="242" y="181" width="2" height="2" fill="#ff0000"/>
<rect x="245" y="178" width="2" height="2" fill="#ff0000"/>
<rect x="250" y="151" width="2" height="2" fill="#ff0000"/>
<rect x="240" y="169" width="2" height="2" fill="#ff0000"/>
<rect x="245" y="142" width="2" height="2" fill="#ff0000"/>
<rect x="247" y="151" width="2" height="2" fill="#ff0000"/>
<rect x="244" y="187" width="2" height="2" fill="#ff0000"/>
<rect x="245" y="143" width="2" height="2" fill="#ff0000"/>
<rect x="240" y="155" width="2" height="2" fill="#ff0000"/>
<rect x="246" y="182" width="2" height="2" fill="#ff0000"/>
<rect x="240" y="167" width="2" height="2" fill="#ff0000"/>
<rect x="243" y="157" width="2" height="2" fill="#ff0000"/>
<rect x="241" y="180" width="2" height="2" fill="#ff0000"/>
<rect x="246" y="180" width="2" height="2" fill="#ff0000"/>
<rect x="245" y="186" width="2" height="2" fill="#ff0000"/>
<rect x="244" y="182" width="2" height="2" fill="#ff0000"/>
<rect x="240" y="148" width="2" height="2" fill="#ff0000"/>
<rect x="240" y="181" width="2" height="2" fill="#ff0000"/>
<rect x="247" y="185" width="2" height="2" fill="#ff0000"/>
<rect x="242" y="170" width="2" height="2" fill="#ff0000"/>
<rect x="241" y="174" width="2" height="2" fill="#ff0000"/>
<rect x="247" y="149" width="2" height="2" fill="#ff0000"/>
<rect x="240" y="142" width="2" height="2" fill="#ff0000"/>
<rect x="242" y="186" width="2" height="2" fill="#ff0000"/>
<rect x="247" y="153" width="2" height="2" fill="#ff0000"/>
<rect x="249" y="167" width="2" height="2" fill="#ff0000"/>
<rect x="243" y="180" width="2" height="2" fill="#ff0000"/>
<rect x="242" y="150" width="2" height="2" fill="#ff0000"/>
<rect x="247" y="170" width="2" height="2" fill="#ff0000"/>
<rect x="244" y="137" width="2" height="2" fill="#ff0000"/>
<rect x="245" y="156" width="2" height="2" fill="#ff0000"/>
<rect x="242" y="145" width="2" height="2" fill="#ff0000"/>
<rect x="248" y="146" width="2" height="2" fill="#ff0000"/>
<rect x="241" y="188" width="2" height="2" fill="#ff0000"/>
<rect x="240" y="152" width="2" height="2" fill="#ff0000"/>
<rect x="240" y="178" width="2" height="2" fill="#ff0000"/>
<rect x="243" y="145" width="2" height="2" fill="#ff0000"/>
<rect x="241" y="159" width="2" height="2" fill="#ff0000"/>
<rect x="240" y="160" width="2" height="2" fill="#ff0000"/>
<rect x="245" y="169" width="2" height="2" fill="#ff0000"/>
<rect x="250" y="167" width="2" height="2" fill="#ff0000"/>
<rect x="245" y="139" width="2" height="2" fill="#ff0000"/>
<rect x="242" y="155" width="2" height="2" fill="#ff0000"/>
<rect x="241" y="181" width="2" height="2" fill="#ff0000"/>
<rect x="242" y="167" width="2" height="2" fill="#ff0000"/>
<rect x="250" y="177" width="2" height="2" fill="#ff0000"/>
<rect x="247" y="141" width="2" height="2" fill="#ff0000"/>
<rect x="245" y="137" width="2" height="2" fill="#ff0000"/>
<rect x="250" y="162" width="2" height="2" fill="#ff0000"/>
<rect x="246" y="162" width="2" height="2" fill="#ff0000"/>
<rect x="241" y="160" width="2" height="2" fill="#ff0000"/>
<rect x="244" y="177" width="2" height="2" fill="#ff0000"/>
<rect x="247" y="152" width="2" height="2" fill="#ff0000"/>
<rect x="248" y="171" width="2" height="2" fill="#ff0000"/>
<rect x="246" y="152" width="2" height="2" fill="#ff0000"/>
<rect x="247" y="143" width="2" height="2" fill="#ff0000"/>
<rect x="247" y="184" width="2" height="2" fill="#ff0000"/>
<rect x="244" y="140" width="2" height="2" fill="#ff0000"/>
<rect x="245" y="160" width="2" height="2" fill="#ff0000"/>
<rect x="246" y="161" width="2" height="2" fill="#ff0000"/>
<rect x="247" y="169" width="2" height="2" fill="#ff0000"/>
<rect x="246" y="174" width="2" height="2" fill="#ff0000"/>
<rect x="248" y="165" width="2" height="2" fill="#ff0000"/>
<rect x="244" y="158" width="2" height="2" fill="#ff0000"/>
<rect x="242" y="183" width="2" height="2" fill="#ff0000"/>
<rect x="243" y="161" width="2" height="2" fill="#ff0000"/>
<rect x="246" y="149" width="2" height="2" fill="#ff0000"/>
<rect x="249" y="169" width="2" height="2" fill="#ff0000"/>
<rect x="247" y="175" width="2" height="2" fill="#ff0000"/>
<rect x="249" y="164" width="2" height="2" fill="#ff0000"/>
<rect x="250" y="161" width="2" height="2" fill="#ff0000"/>
<rect x="240" y="170" width="2" height="2" fill="#ff0000"/>
<rect x="247" y="187" width="2" height="2" fill="#ff0000"/>
<rect x="253" y="181" width="2" height="2" fill="#ff0000"/>
<rect x="248" y="185" width="2" height="2" fill="#ff0000"/>
<rect x="256" y="171" width="2" height="2" fill="#ff0000"/>
<rect x="249" y="187" width="2" height="2" fill="#ff0000"/>
<rect x="242" y="134" width="2" height="2" fill="#ff0000"/>
<rect x="253" y="178" width="2" height="2" fill="#ff0000"/>
<rect x="252" y="161" width="2" height="2" fill="#ff0000"/>
<rect x="255" y="153" width="2" height="2" fill="#ff0000"/>
<rect x="252" y="167" width="2" height="2" fill="#ff0000"/>
<rect x="255" y="170" width="2" height="2" fill="#ff0000"/>
<rect x="251" y="179" width="2" height="2" fill="#ff0000"/>
<rect x="247" y="191" width="2" height="2" fill="#ff0000"/>
<rect x="252" y="185" width="2" height="2" fill="#ff0000"/>
<rect x="255" y="156" width="2" height="2" fill="#ff0000"/>
<rect x="250" y="180" width="2" height="2" fill="#ff0000"/>
<rect x="254" y="138" width="2" height="2" fill="#ff0000"/>
<rect x="253" y="161" width="2" height="2" fill="#ff0000"/>
<rect x="253" y="156" width="2" height="2" fill="#ff0000"/>
<rect x="253" y="150" width="2" height="2" fill="#ff0000"/>
<rect x="256" y="147" width="2" height="2" fill="#ff0000"/>
<rect x="252" y="174" width="2" height="2" fill="#ff0000"/>
<rect x="255" y="177" width="2" height="2" fill="#ff0000"/>
<rect x="252" y="156" width="2" height="2" fill="#ff0000"/>
<rect x="249" y="184" width="2" height="2" fill="#ff0000"/>
<rect x="255" y="167" width="2" height="2" fill="#ff0000"/>
<rect x="243" y="134" width="2" height="2" fill="#ff0000"/>
<rect x="253" y="170" width="2" height="2" fill="#ff0000"/>
<rect x="249" y="138" width="2" height="2" fill="#ff0000"/>
<rect x="253" y="139" width="2" height="2" fill="#ff0000"/>
<rect x="251" y="184" width="2" height="2" fill="#ff0000"/>
<rect x="257" y="158" width="2" height="2" fill="#ff0000"/>
<rect x="245" y="126" width="2" height="2" fill="#ff0000"/>
<rect x="256" y="149" width="2" height="2" fill="#ff0000"/>
<rect x="242" y="133" width="2" height="2" fill="#ff0000"/>
<rect x="253" y="182" width="2" height="2" fill="#ff0000"/>
<rect x="241" y="191" width="2" height="2" fill="#ff0000"/>
<rect x="253" y="136" width="2" height="2" fill="#ff0000"/>
<rect x="252" y="136" width="2" height="2" fill="#ff0000"/>
<rect x="257" y="153" width="2" height="2" fill="#ff0000"/>
<rect x="253" y="163" width="2" height="2" fill="#ff0000"/>
<rect x="249" y="183" width="2" height="2" fill="#ff0000"/>
<rect x="254" y="147" width="2" height="2" fill="#ff0000"/>
<rect x="257" y="151" width="2" height="2" fill="#ff0000"/>
<rect x="253" y="166" width="2" height="2" fill="#ff0000"/>
<rect x="255" y="158" width="2" height="2" fill="#ff0000"/>
<rect x="252" y="155" width="2" height="2" fill="#ff0000"/>
<rect x="252" y="151" width="2" height="2" fill="#ff0000"/>
<rect x="255" y="144" width="2" height="2" fill="#ff0000"/>
<rect x="251" y="172" width="2" height="2" fill="#ff0000"/>
<rect x="256" y="162" width="2" height="2" fill="#ff0000"/>
<rect x="256" y="176" width="2" height="2" fill="#ff0000"/>
<rect x="249" y="189" width="2" height="2" fill="#ff0000"/>
<rect x="253" y="137" width="2" height="2" fill="#ff0000"/>
<rect x="248" y="188" width="2" height="2" fill="#ff0000"/>
<rect x="249" y="185" width="2" height="2" fill="#ff0000"/>
<rect x="253" y="143" width="2" height="2" fill="#ff0000"/>
<rect x="240" y="134" width="2" height="2" fill="#ff0000"/>
<rect x="534" y="124" width="2" height="2" fill="#00ff00"/>
<rect x="526" y="122" width="2" height="2" fill="#00ff00"/>
<rect x="537" y="129" width="2" height="2" fill="#00ff00"/>
<rect x="528" y="119" width="2" height="2" fill="#00ff00"/>
<rect x="523" y="119" width="2" height="2" fill="#00ff00"/>
<rect x="520" y="117" width="2" height="2" fill="#00ff00"/>
<rect x="515" y="115" width="2" height="2" fill="#00ff00"/>
<rect x="533" y="127" width="2" height="2" fill="#00ff00"/>
<rect x="531" y="125" width="2" height="2" fill="#00ff00"/>
<rect x="545" y="143" width="2" height="2" fill="#00ff00"/>
<rect x="526" y="120" width="2" height="2" fill="#00ff00"/>
<rect x="534" y="126" width="2" height="2" fill="#00ff00"/>
<rect x="536" y="127" width="2" height="2" fill="#00ff00"/>
<rect x="519" y="118" width="2" height="2" fill="#00ff00"/>
<rect x="524" y="116" width="2" height="2" fill="#00ff00"/>
<rect x="543" y="141" width="2" height="2" fill="#00ff00"/>
<rect x="545" y="142" width="2" height="2" fill="#00ff00"/>
<rect x="522" y="116" width="2" height="2" fill="#00ff00"/>
<rect x="544" y="143" width="2" height="2" fill="#00ff00"/>
<rect x="543" y="139" width="2" height="2" fill="#00ff00"/>
<rect x="527" y="123" width="2" height="2" fill="#00ff00"/>
<rect x="540" y="137" width="2" height="2" fill="#00ff00"/>
<rect x="518" y="116" width="2" height="2" fill="#00ff00"/>
<rect x="539" y="133" width="2" height="2" fill="#00ff00"/>
<rect x="530" y="122" width="2" height="2" fill="#00ff00"/>
<rect x="539" y="135" width="2" height="2" fill="#00ff00"/>
<rect x="535" y="126" width="2" height="2" fill="#00ff00"/>
<rect x="541" y="137" width="2" height="2" fill="#00ff00"/>
<rect x="536" y="126" width="2" height="2" fill="#00ff00"/>
<rect x="525" y="117" width="2" height="2" fill="#00ff00"/>
<rect x="532" y="122" width="2" height="2" fill="#00ff00"/>
<rect x="521" y="120" width="2" height="2" fill="#00ff00"/>
<rect x="524" y="133" width="2" height="2" fill="#00ff00"/>
<rect x="518" y="133" width="2" height="2" fill="#00ff00"/>
<rect x="517" y="160" width="2" height="2" fill="#00ff00"/>
<rect x="517" y="157" width="2" height="2" fill="#00ff00"/>
<rect x="518" y="129" width="2" height="2" fill="#00ff00"/>
<rect x="520" y="169" width="2" height="2" fill="#00ff00"/>
<rect x="528" y="125" width="2" height="2" fill="#00ff00"/>
<rect x="526" y="123" width="2" height="2" fill="#00ff00"/>
<rect x="520" y="157" width="2" height="2" fill="#00ff00"/>
<rect x="525" y="126" width="2" height="2" fill="#00ff00"/>
<rect x="523" y="134" width="2" height="2" fill="#00ff00"/>
<rect x="520" y="176" width="2" height="2" fill="#00ff00"/>
<rect x="522" y="149" width="2" height="2" fill="#00ff00"/>
<rect x="521" y="145" width="2" height="2" fill="#00ff00"/>
<rect x="519" y="142" width="2" height="2" fill="#00ff00"/>
<rect x="516" y="177" width="2" height="2" fill="#00ff00"/>
<rect x="518" y="174" width="2" height="2" fill="#00ff00"/>
<rect x="518" y="152" width="2" height="2" fill="#00ff00"/>
<rect x="519" y="183" width="2" height="2" fill="#00ff00"/>
<rect x="526" y="125" width="2" height="2" fill="#00ff00"/>
<rect x="520" y="140" width="2" height="2" fill="#00ff00"/>
<rect x="519" y="153" width="2" height="2" fill="#00ff00"/>
<rect x="517" y="183" width="2" height="2" fill="#00ff00"/>
<rect x="527" y="127" width="2" height="2" fill="#00ff00"/>
<rect x="518" y="149" width="2" height="2" fill="#00ff00"/>
<rect x="521" y="159" width="2" height="2" fill="#00ff00"/>
<rect x="521" y="172" width="2" height="2" fill="#00ff00"/>
<rect x="518" y="158" width="2" height="2" fill="#00ff00"/>
<rect x="522" y="141" width="2" height="2" fill="#00ff00"/>
<rect x="521" y="130" width="2" height="2" fill="#00ff00"/>
<rect x="520" y="178" width="2" height="2" fill="#00ff00"/>
<rect x="520" y="121" width="2" height="2" fill="#00ff00"/>
<rect x="521" y="176" width="2" height="2" fill="#00ff00"/>
<rect x="522" y="164" width="2" height="2" fill="#00ff00"/>
<rect x="517" y="136" width="2" height="2" fill="#00ff00"/>
<rect x="521" y="127" width="2" height="2" fill="#00ff00"/>
<rect x="516" y="152" width="2" height="2" fill="#00ff00"/>
<rect x="522" y="133" width="2" height="2" fill="#00ff00"/>
<rect x="521" y="152" width="2" height="2" fill="#00ff00"/>
<rect x="518" y="131" width="2" height="2" fill="#00ff00"/>
<rect x="523" y="129" width="2" height="2" fill="#00ff00"/>
<rect x="524" y="129" width="2" height="2" fill="#00ff00"/>
<rect x="520" y="173" width="2" height="2" fill="#00ff00"/>
<rect x="517" y="130" width="2" height="2" fill="#00ff00"/>
<rect x="523" y="125" width="2" height="2" fill="#00ff00"/>
<rect x="519" y="169" width="2" height="2" fill="#00ff00"/>
<rect x="521" y="137" width="2" height="2" fill="#00ff00"/>
<rect x="527" y="125" width="2" height="2" fill="#00ff00"/>
<rect x="524" y="132" width="2" height="2" fill="#00ff00"/>
<rect x="523" y="140" width="2" height="2" fill="#00ff00"/>
<rect x="518" y="173" width="2" height="2" fill="#00ff00"/>
<rect x="516" y="156" width="2" height="2" fill="#00ff00"/>
<rect x="519" y="160" width="2" height="2" fill="#00ff00"/>
<rect x="522" y="142" width="2" height="2" fill="#00ff00"/>
<rect x="519" y="171" width="2" height="2" fill="#00ff00"/>
<rect x="520" y="182" width="2" height="2" fill="#00ff00"/>
<rect x="518" y="171" width="2" height="2" fill="#00ff00"/>
<rect x="517" y="134" width="2" height="2" fill="#00ff00"/>
<rect x="524" y="130" width="2" height="2" fill="#00ff00"/>
<rect x="520" y="120" width="2" height="2" fill="#00ff00"/>
<rect x="524" y="123" width="2" height="2" fill="#00ff00"/>
<rect x="515" y="181" width="2" height="2" fill="#00ff00"/>
<rect x="521" y="156" width="2" height="2" fill="#00ff00"/>
<rect x="517" y="144" width="2" height="2" fill="#00ff00"/>
<rect x="519" y="149" width="2" height="2" fill="#00ff00"/>
<rect x="519" y="136" width="2" height="2" fill="#00ff00"/>
<rect x="519" y="135" width="2" height="2" fill="#00ff00"/>
<rect x="523" y="136" width="2" height="2" fill="#00ff00"/>
<rect x="521" y="154" width="2" height="2" fill="#00ff00"/>
<rect x="525" y="131" width="2" height="2" fill="#00ff00"/>
<rect x="517" y="173" width="2" height="2" fill="#00ff00"/>
<rect x="518" y="140" width="2" height="2" fill="#00ff00"/>
<rect x="521" y="125" width="2" height="2" fill="#00ff00"/>
<rect x="516" y="174" width="2" height="2" fill="#00ff00"/>
<rect x="519" y="143" width="2" height="2" fill="#00ff00"/>
<rect x="517" y="159" width="2" height="2" fill="#00ff00"/>
<rect x="520" y="123" width="2" height="2" fill="#00ff00"/>
<rect x="520" y="151" width="2" height="2" fill="#00ff00"/>
<rect x="521" y="170" width="2" height="2" fill="#00ff00"/>
<rect x="515" y="178" width="2" height="2" fill="#00ff00"/>
<rect x="523" y="130" width="2" height="2" fill="#00ff00"/>
<rect x="520" y="174" width="2" height="2" fill="#00ff00"/>
<rect x="521" y="133" width="2" height="2" fill="#00ff00"/>
<rect x="517" y="175" width="2" height="2" fill="#00ff00"/>
<rect x="518" y="141" width="2" height="2" fill="#00ff00"/>
<rect x="516" y="163" width="2" height="2" fill="#00ff00"/>
<rect x="518" y="137" width="2" height="2" fill="#00ff00"/>
<rect x="519" y="150" width="2" height="2" fill="#00ff00"/>
<rect x="519" y="157" width="2" height="2" fill="#00ff00"/>
<rect x="522" y="165" width="2" height="2" fill="#00ff00"/>
<rect x="521" y="129" width="2" height="2" fill="#00ff00"/>
<rect x="518" y="143" width="2" height="2" fill="#00ff00"/>
<rect x="523" y="132" width="2" height="2" fill="#00ff00"/>
<rect x="519" y="178" width="2" height="2" fill="#00ff00"/>
<rect x="520" y="168" width="2" height="2" fill="#00ff00"/>
<rect x="522" y="136" width="2" height="2" fill="#00ff00"/>
<rect x="517" y="132" width="2" height="2" fill="#00ff00"/>
<rect x="520" y="181" width="2" height="2" fill="#00ff00"/>
<rect x="515" y="172" width="2" height="2" fill="#00ff00"/>
<rect x="520" y="126" width="2" height="2" fill="#00ff00"/>
<rect x="522" y="127" width="2" height="2" fill="#00ff00"/>
<rect x="525" y="122" width="2" height="2" fill="#00ff00"/>
<rect x="517" y="151" width="2" height="2" fill="#00ff00"/>
<rect x="520" y="128" width="2" height="2" fill="#00ff00"/>
<rect x="525" y="127" width="2" height="2" fill="#00ff00"/>
<rect x="521" y="157" width="2" height="2" fill="#00ff00"/>
<rect x="522" y="140" width="2" height="2" fill="#00ff00"/>
<rect x="526" y="128" width="2" height="2" fill="#00ff00"/>
<rect x="520" y="171" width="2" height="2" fill="#00ff00"/>
<rect x="526" y="127" width="2" height="2" fill="#00ff00"/>
<rect x="516" y="130" width="2" height="2" fill="#00ff00"/>
<rect x="523" y="135" width="2" height="2" fill="#00ff00"/>
<rect x="522" y="130" width="2" height="2" fill="#00ff00"/>
<rect x="515" y="180" width="2" height="2" fill="#00ff00"/>
<rect x="524" y="134" width="2" height="2" fill="#00ff00"/>
<rect x="519" y="120" width="2" height="2" fill="#00ff00"/>
<rect x="522" y="144" width="2" height="2" fill="#00ff00"/>
<rect x="519" y="122" width="2" height="2" fill="#00ff00"/>
<rect x="520" y="132" width="2" height="2" fill="#00ff00"/>
<rect x="519" y="133" width="2" height="2" fill="#00ff00"/>
<rect x="523" y="141" width="2" height="2" fill="#00ff00"/>
<rect x="516" y="179" width="2" height="2" fill="#00ff00"/>
<rect x="515" y="182" width="2" height="2" fill="#00ff00"/>
<rect x="524" y="124" width="2" height="2" fill="#00ff00"/>
<rect x="518" y="150" width="2" height="2" fill="#00ff00"/>
<rect x="520" y="162" width="2" height="2" fill="#00ff00"/>
<rect x="519" y="156" width="2" height="2" fill="#00ff00"/>
<rect x="523" y="142" width="2" height="2" fill="#00ff00"/>
<rect x="517" y="143" width="2" height="2" fill="#00ff00"/>
<rect x="519" y="170" width="2" height="2" fill="#00ff00"/>
<rect x="523" y="121" width="2" height="2" fill="#00ff00"/>
<rect x="522" y="154" width="2" height="2" fill="#00ff00"/>
<rect x="518" y="160" width="2" height="2" fill="#00ff00"/>
<rect x="517" y="161" width="2" height="2" fill="#00ff00"/>
<rect x="518" y="178" width="2" height="2" fill="#00ff00"/>
<rect x="524" y="131" width="2" height="2" fill="#00ff00"/>
<rect x="519" y="146" width="2" height="2" fill="#00ff00"/>
<rect x="521" y="181" width="2" height="2" fill="#00ff00"/>
<rect x="518" y="147" width="2" height="2" fill="#00ff00"/>
<rect x="519" y="121" width="2" height="2" fill="#00ff00"/>
<rect x="519" y="161" width="2" height="2" fill="#00ff00"/>
<rect x="516" y="123" width="2" height="2" fill="#00ff00"/>
<rect x="519" y="130" width="2" height="2" fill="#00ff00"/>
<rect x="519" y="129" width="2" height="2" fill="#00ff00"/>
<rect x="522" y="122" width="2" height="2" fill="#00ff00"/>
<rect x="523" y="122" width="2" height="2" fill="#00ff00"/>
<rect x="520" y="154" width="2" height="2" fill="#00ff00"/>
<rect x="527" y="126" width="2" height="2" fill="#00ff00"/>
<rect x="518" y="172" width="2" height="2" fill="#00ff00"/>
<rect x="521" y="144" width="2" height="2" fill="#00ff00"/>
<rect x="517" y="149" width="2" height="2" fill="#00ff00"/>
<rect x="519" y="162" width="2" height="2" fill="#00ff00"/>
<rect x="525" y="129" width="2" height="2" fill="#00ff00"/>
<rect x="520" y="172" width="2" height="2" fill="#00ff00"/>
<rect x="519" y="152" width="2" height="2" fill="#00ff00"/>
<rect x="517" y="178" width="2" height="2" fill="#00ff00"/>
<rect x="520" y="177" width="2" height="2" fill="#00ff00"/>
<rect x="527" y="124" width="2" height="2" fill="#00ff00"/>
<rect x="523" y="138" width="2" height="2" fill="#00ff00"/>
<rect x="519" y="132" width="2" height="2" fill="#00ff00"/>
<rect x="515" y="128" width="2" height="2" fill="#00ff00"/>
<rect x="511" y="109" width="2" height="2" fill="#00ff00"/>
<rect x="502" y="118" width="2" height="2" fill="#00ff00"/>
<rect x="515" y="142" width="2" height="2" fill="#00ff00"/>
<rect x="499" y="110" width="2" height="2" fill="#00ff00"/>
<rect x="509" y="107" width="2" height="2" fill="#00ff00"/>
<rect x="515" y="117" width="2" height="2" fill="#00ff00"/>
<rect x="513" y="177" width="2" height="2" fill="#00ff00"/>
<rect x="506" y="108" width="2" height="2" fill="#00ff00"/>
<rect x="507" y="105" width="2" height="2" fill="#00ff00"/>
<rect x="509" y="130" width="2" height="2" fill="#00ff00"/>
<rect x="515" y="161" width="2" height="2" fill="#00ff00"/>
<rect x="513" y="168" width="2" height="2" fill="#00ff00"/>
<rect x="505" y="128" width="2" height="2" fill="#00ff00"/>
<rect x="506" y="137" width="2" height="2" fill="#00ff00"/>
<rect x="514" y="128" width="2" height="2" fill="#00ff00"/>
<rect x="513" y="138" width="2" height="2" fill="#00ff00"/>
<rect x="509" y="153" width="2" height="2" fill="#00ff00"/>
<rect x="515" y="127" width="2" height="2" fill="#00ff00"/>
<rect x="516" y="151" width="2" height="2" fill="#00ff00"/>
<rect x="514" y="118" width="2" height="2" fill="#00ff00"/>
<rect x="511" y="144" width="2" height="2" fill="#00ff00"/>
<rect x="514" y="145" width="2" height="2" fill="#00ff00"/>
<rect x="513" y="142" width="2" height="2" fill="#00ff00"/>
<rect x="512" y="128" width="2" height="2" fill="#00ff00"/>
<rect x="515" y="169" width="2" height="2" fill="#00ff00"/>
<rect x="511" y="136" width="2" height="2" fill="#00ff00"/>
<rect x="514" y="163" width="2" height="2" fill="#00ff00"/>
<rect x="512" y="134" width="2" height="2" fill="#00ff00"/>
<rect x="514" y="149" width="2" height="2" fill="#00ff00"/>
<rect x="507" y="139" width="2" height="2" fill="#00ff00"/>
<rect x="502" y="109" width="2" height="2" fill="#00ff00"/>
<rect x="510" y="157" width="2" height="2" fill="#00ff00"/>
<rect x="513" y="114" width="2" height="2" fill="#00ff00"/>
<rect x="510" y="107" width="2" height="2" fill="#00ff00"/>
<rect x="513" y="111" width="2" height="2" fill="#00ff00"/>
<rect x="504" y="118" width="2" height="2" fill="#00ff00"/>
<rect x="513" y="174" width="2" height="2" fill="#00ff00"/>
<rect x="513" y="116" width="2" height="2" fill="#00ff00"/>
<rect x="504" y="126" width="2" height="2" fill="#00ff00"/>
<rect x="514" y="114" width="2" height="2" fill="#00ff00"/>
<rect x="514" y="134" width="2" height="2" fill="#00ff00"/>
<rect x="507" y="148" width="2" height="2" fill="#00ff00"/>
<rect x="518" y="117" width="2" height="2" fill="#00ff00"/>
<rect x="500" y="106" width="2" height="2" fill="#00ff00"/>
<rect x="514" y="143" width="2" height="2" fill="#00ff00"/>
<rect x="513" y="180" width="2" height="2" fill="#00ff00"/>
<rect x="508" y="137" width="2" height="2" fill="#00ff00"/>
<rect x="510" y="113" width="2" height="2" fill="#00ff00"/>
<rect x="515" y="167" width="2" height="2" fill="#00ff00"/>
<rect x="510" y="126" width="2" height="2" fill="#00ff00"/>
<rect x="512" y="150" width="2" height="2" fill="#00ff00"/>
<rect x="512" y="172" width="2" height="2" fill="#00ff00"/>
<rect x="511" y="171" width="2" height="2" fill="#00ff00"/>
<rect x="511" y="134" width="2" height="2" fill="#00ff00"/>
<rect x="508" y="117" width="2" height="2" fill="#00ff00"/>
<rect x="509" y="118" width="2" height="2" fill="#00ff00"/>
<rect x="510" y="168" width="2" height="2" fill="#00ff00"/>
<rect x="513" y="140" width="2" height="2" fill="#00ff00"/>
<rect x="508" y="108" width="2" height="2" fill="#00ff00"/>
<rect x="515" y="151" width="2" height="2" fill="#00ff00"/>
<rect x="514" y="158" width="2" height="2" fill="#00ff00"/>
<rect x="507" y="130" width="2" height="2" fill="#00ff00"/>
<rect x="507" y="142" width="2" height="2" fill="#00ff00"/>
<rect x="505" y="110" width="2" height="2" fill="#00ff00"/>
<rect x="509" y="158" width="2" height="2" fill="#00ff00"/>
<rect x="519" y="119" width="2" height="2" fill="#00ff00"/>
<rect x="509" y="120" width="2" height="2" fill="#00ff00"/>
<rect x="510" y="167" width="2" height="2" fill="#00ff00"/>
<rect x="511" y="151" width="2" height="2" fill="#00ff00"/>
<rect x="512" y="182" width="2" height="2" fill="#00ff00"/>
<rect x="516" y="150" width="2" height="2" fill="#00ff00"/>
<rect x="517" y="115" width="2" height="2" fill="#00ff00"/>
<rect x="505" y="137" width="2" height="2" fill="#00ff00"/>
<rect x="510" y="145" width="2" height="2" fill="#00ff00"/>
<rect x="507" y="106" width="2" height="2" fill="#00ff00"/>
<rect x="504" y="105" width="2" height="2" fill="#00ff00"/>
<rect x="513" y="173" width="2" height="2" fill="#00ff00"/>
<rect x="509" y="145" width="2" height="2" fill="#00ff00"/>
<rect x="516" y="119" width="2" height="2" fill="#00ff00"/>
<rect x="514" y="169" width="2" height="2" fill="#00ff00"/>
<rect x="515" y="123" width="2" height="2" fill="#00ff00"/>
<rect x="510" y="109" width="2" height="2" fill="#00ff00"/>
<rect x="511" y="115" width="2" height="2" fill="#00ff00"/>
<rect x="507" y="108" width="2" height="2" fill="#00ff00"/>
<rect x="510" y="165" width="2" height="2" fill="#00ff00"/>
<rect x="515" y="148" width="2" height="2" fill="#00ff00"/>
<rect x="452" y="83" width="2" height="2" fill="#00ff00"/>
<rect x="458" y="83" width="2" height="2" fill="#00ff00"/>
<rect x="475" y="83" width="2" height="2" fill="#00ff00"/>
<rect x="481" y="84" width="2" height="2" fill="#00ff00"/>
<rect x="484" y="88" width="2" height="2" fill="#00ff00"/>
<rect x="470" y="92" width="2" height="2" fill="#00ff00"/>
<rect x="474" y="92" width="2" height="2" fill="#00ff00"/>
<rect x="477" y="94" width="2" height="2" fill="#00ff00"/>
<rect x="482" y="92" width="2" height="2" fill="#00ff00"/>
<rect x="489" y="92" width="2" height="2" fill="#00ff00"/>
<rect x="492" y="92" width="2" height="2" fill="#00ff00"/>
<rect x="496" y="92" width="2" height="2" fill="#00ff00"/>
<rect x="456" y="101" width="2" height="2" fill="#00ff00"/>
<rect x="497" y="98" width="2" height="2" fill="#00ff00"/>
<rect x="501" y="102" width="2" height="2" fill="#00ff00"/>
<rect x="500" y="105" width="2" height="2" fill="#00ff00"/>
<rect x="503" y="104" width="2" height="2" fill="#00ff00"/>
<rect x="505" y="105" width="2" height="2" fill="#00ff00"/>
<rect x="497" y="107" width="2" height="2" fill="#00ff00"/>
<rect x="499" y="109" width="2" height="2" fill="#00ff00"/>
<rect x="496" y="110" width="2" height="2" fill="#00ff00"/>
<rect x="510" y="105" width="2" height="2" fill="#00ff00"/>
<rect x="511" y="107" width="2" height="2" fill="#00ff00"/>
<rect x="507" y="109" width="2" height="2" fill="#00ff00"/>
<rect x="509" y="110" width="2" height="2" fill="#00ff00"/>
<rect x="512" y="110" width="2" height="2" fill="#00ff00"/>
<rect x="515" y="111" width="2" height="2" fill="#00ff00"/>
<rect x="514" y="109" width="2" height="2" fill="#00ff00"/>
<rect x="518" y="107" width="2" height="2" fill="#00ff00"/>
<rect x="480" y="110" width="2" height="2" fill="#00ff00"/>
<rect x="486" y="110" width="2" height="2" fill="#00ff00"/>
<rect x="490" y="111" width="2" height="2" fill="#00ff00"/>
<rect x="493" y="111" width="2" height="2" fill="#00ff00"/>
<rect x="495" y="112" width="2" height="2" fill="#00ff00"/>
<rect x="500" y="112" width="2" height="2" fill="#00ff00"/>
<rect x="495" y="117" width="2" height="2" fill="#00ff00"/>
<rect x="501" y="117" width="2" height="2" fill="#00ff00"/>
<rect x="505" y="116" width="2" height="2" fill="#00ff00"/>
<rect x="507" y="115" width="2" height="2" fill="#00ff00"/>
<rect x="481" y="123" width="2" height="2" fill="#00ff00"/>
<rect x="492" y="127" width="2" height="2" fill="#00ff00"/>
<rect x="487" y="131" width="2" height="2" fill="#00ff00"/>
<rect x="501" y="122" width="2" height="2" fill="#00ff00"/>
<rect x="503" y="124" width="2" height="2" fill="#00ff00"/>
<rect x="481" y="109" width="2" height="2" fill="#00ff00"/>
<rect x="489" y="132" width="2" height="2" fill="#00ff00"/>
<rect x="483" y="139" width="2" height="2" fill="#00ff00"/>
<rect x="489" y="137" width="2" height="2" fill="#00ff00"/>
<rect x="487" y="143" width="2" height="2" fill="#00ff00"/>
<rect x="497" y="128" width="2" height="2" fill="#00ff00"/>
<rect x="500" y="130" width="2" height="2" fill="#00ff00"/>
<rect x="495" y="133" width="2" height="2" fill="#00ff00"/>
<rect x="504" y="131" width="2" height="2" fill="#00ff00"/>
<rect x="489" y="154" width="2" height="2" fill="#00ff00"/>
<rect x="490" y="159" width="2" height="2" fill="#00ff00"/>
<rect x="493" y="171" width="2" height="2" fill="#00ff00"/>
<rect x="500" y="166" width="2" height="2" fill="#00ff00"/>
<rect x="503" y="160" width="2" height="2" fill="#00ff00"/>
<rect x="498" y="143" width="2" height="2" fill="#00ff00"/>
<rect x="500" y="146" width="2" height="2" fill="#00ff00"/>
<rect x="502" y="150" width="2" height="2" fill="#00ff00"/>
<rect x="504" y="152" width="2" height="2" fill="#00ff00"/>
<rect x="517" y="181" width="2" height="2" fill="#00ff00"/>
<rect x="601" y="154" width="2" height="2" fill="#ff0000"/>
<rect x="599" y="149" width="2" height="2" fill="#ff0000"/>
<rect x="578" y="139" width="2" height="2" fill="#ff0000"/>
<rect x="586" y="140" width="2" height="2" fill="#ff0000"/>
<rect x="597" y="161" width="2" height="2" fill="#ff0000"/>
<rect x="583" y="139" width="2" height="2" fill="#ff0000"/>
<rect x="602" y="169" width="2" height="2" fill="#ff0000"/>
<rect x="599" y="161" width="2" height="2" fill="#ff0000"/>
<rect x="583" y="140" width="2" height="2" fill="#ff0000"/>
<rect x="602" y="151" width="2" height="2" fill="#ff0000"/>
<rect x="595" y="150" width="2" height="2" fill="#ff0000"/>
<rect x="604" y="173" width="2" height="2" fill="#ff0000"/>
<rect x="591" y="143" width="2" height="2" fill="#ff0000"/>
<rect x="589" y="142" width="2" height="2" fill="#ff0000"/>
<rect x="600" y="170" width="2" height="2" fill="#ff0000"/>
<rect x="604" y="137" width="2" height="2" fill="#ff0000"/>
<rect x="601" y="179" width="2" height="2" fill="#ff0000"/>
<rect x="580" y="140" width="2" height="2" fill="#ff0000"/>
<rect x="580" y="138" width="2" height="2" fill="#ff0000"/>
<rect x="598" y="160" width="2" height="2" fill="#ff0000"/>
<rect x="601" y="163" width="2" height="2" fill="#ff0000"/>
<rect x="596" y="143" width="2" height="2" fill="#ff0000"/>
<rect x="577" y="128" width="2" height="2" fill="#ff0000"/>
<rect x="597" y="133" width="2" height="2" fill="#ff0000"/>
<rect x="588" y="141" width="2" height="2" fill="#ff0000"/>
<rect x="585" y="138" width="2" height="2" fill="#ff0000"/>
<rect x="600" y="175" width="2" height="2" fill="#ff0000"/>
<rect x="591" y="129" width="2" height="2" fill="#ff0000"/>
<rect x="595" y="151" width="2" height="2" fill="#ff0000"/>
<rect x="595" y="147" width="2" height="2" fill="#ff0000"/>
<rect x="600" y="181" width="2" height="2" fill="#ff0000"/>
<rect x="599" y="172" width="2" height="2" fill="#ff0000"/>
<rect x="599" y="167" width="2" height="2" fill="#ff0000"/>
<rect x="595" y="138" width="2" height="2" fill="#ff0000"/>
<rect x="598" y="149" width="2" height="2" fill="#ff0000"/>
<rect x="604" y="178" width="2" height="2" fill="#ff0000"/>
<rect x="588" y="135" width="2" height="2" fill="#ff0000"/>
<rect x="602" y="177" width="2" height="2" fill="#ff0000"/>
<rect x="600" y="174" width="2" height="2" fill="#ff0000"/>
<rect x="599" y="152" width="2" height="2" fill="#ff0000"/>
<rect x="598" y="161" width="2" height="2" fill="#ff0000"/>
<rect x="599" y="165" width="2" height="2" fill="#ff0000"/>
<rect x="601" y="170" width="2" height="2" fill="#ff0000"/>
<rect x="599" y="154" width="2" height="2" fill="#ff0000"/>
<rect x="597" y="155" width="2" height="2" fill="#ff0000"/>
<rect x="598" y="165" width="2" height="2" fill="#ff0000"/>
<rect x="596" y="155" width="2" height="2" fill="#ff0000"/>
<rect x="601" y="174" width="2" height="2" fill="#ff0000"/>
<rect x="582" y="139" width="2" height="2" fill="#ff0000"/>
<rect x="603" y="180" width="2" height="2" fill="#ff0000"/>
<rect x="596" y="154" width="2" height="2" fill="#ff0000"/>
<rect x="597" y="151" width="2" height="2" fill="#ff0000"/>
<rect x="599" y="166" width="2" height="2" fill="#ff0000"/>
<rect x="603" y="144" width="2" height="2" fill="#ff0000"/>
<rect x="576" y="143" width="2" height="2" fill="#ff0000"/>
<rect x="593" y="147" width="2" height="2" fill="#ff0000"/>
<rect x="599" y="173" width="2" height="2" fill="#ff0000"/>
<rect x="577" y="139" width="2" height="2" fill="#ff0000"/>
<rect x="578" y="141" width="2" height="2" fill="#ff0000"/>
<rect x="604" y="164" width="2" height="2" fill="#ff0000"/>
<rect x="609" y="158" width="2" height="2" fill="#ff0000"/>
<rect x="597" y="148" width="2" height="2" fill="#ff0000"/>
<rect x="602" y="164" width="2" height="2" fill="#ff0000"/>
<rect x="604" y="181" width="2" height="2" fill="#ff0000"/>
<rect x="601" y="160" width="2" height="2" fill="#ff0000"/>
<rect x="580" y="124" width="2" height="2" fill="#ff0000"/>
<rect x="600" y="131" width="2" height="2" fill="#ff0000"/>
<rect x="590" y="142" width="2" height="2" fill="#ff0000"/>
<rect x="604" y="138" width="2" height="2" fill="#ff0000"/>
<rect x="599" y="158" width="2" height="2" fill="#ff0000"/>
<rect x="585" y="139" width="2" height="2" fill="#ff0000"/>
<rect x="589" y="124" width="2" height="2" fill="#ff0000"/>
<rect x="602" y="142" width="2" height="2" fill="#ff0000"/>
<rect x="596" y="133" width="2" height="2" fill="#ff0000"/>
<rect x="601" y="148" width="2" height="2" fill="#ff0000"/>
<rect x="606" y="175" width="2" height="2" fill="#ff0000"/>
<rect x="603" y="168" width="2" height="2" fill="#ff0000"/>
<rect x="578" y="132" width="2" height="2" fill="#ff0000"/>
<rect x="581" y="131" width="2" height="2" fill="#ff0000"/>
<rect x="611" y="159" width="2" height="2" fill="#ff0000"/>
<rect x="600" y="163" width="2" height="2" fill="#ff0000"/>
<rect x="599" y="170" width="2" height="2" fill="#ff0000"/>
<rect x="614" y="162" width="2" height="2" fill="#ff0000"/>
<rect x="605" y="148" width="2" height="2" fill="#ff0000"/>
<rect x="595" y="143" width="2" height="2" fill="#ff0000"/>
<rect x="605" y="169" width="2" height="2" fill="#ff0000"/>
<rect x="596" y="137" width="2" height="2" fill="#ff0000"/>
<rect x="606" y="139" width="2" height="2" fill="#ff0000"/>
<rect x="610" y="171" width="2" height="2" fill="#ff0000"/>
<rect x="599" y="176" width="2" height="2" fill="#ff0000"/>
<rect x="596" y="152" width="2" height="2" fill="#ff0000"/>
<rect x="603" y="140" width="2" height="2" fill="#ff0000"/>
<rect x="585" y="135" width="2" height="2" fill="#ff0000"/>
<rect x="603" y="172" width="2" height="2" fill="#ff0000"/>
<rect x="614" y="171" width="2" height="2" fill="#ff0000"/>
<rect x="601" y="132" width="2" height="2" fill="#ff0000"/>
<rect x="600" y="180" width="2" height="2" fill="#ff0000"/>
<rect x="608" y="175" width="2" height="2" fill="#ff0000"/>
<rect x="595" y="125" width="2" height="2" fill="#ff0000"/>
<rect x="602" y="180" width="2" height="2" fill="#ff0000"/>
<rect x="576" y="138" width="2" height="2" fill="#ff0000"/>
<rect x="582" y="138" width="2" height="2" fill="#ff0000"/>
<rect x="604" y="154" width="2" height="2" fill="#ff0000"/>
<rect x="593" y="123" width="2" height="2" fill="#ff0000"/>
<rect x="593" y="140" width="2" height="2" fill="#ff0000"/>
<rect x="605" y="176" width="2" height="2" fill="#ff0000"/>
<rect x="604" y="142" width="2" height="2" fill="#ff0000"/>
<rect x="613" y="169" width="2" height="2" fill="#ff0000"/>
<rect x="604" y="160" width="2" height="2" fill="#ff0000"/>
<rect x="581" y="127" width="2" height="2" fill="#ff0000"/>
<rect x="618" y="176" width="2" height="2" fill="#ff0000"/>
<rect x="611" y="164" width="2" height="2" fill="#ff0000"/>
<rect x="585" y="123" width="2" height="2" fill="#ff0000"/>
<rect x="606" y="160" width="2" height="2" fill="#ff0000"/>
<rect x="600" y="151" width="2" height="2" fill="#ff0000"/>
<rect x="600" y="143" width="2" height="2" fill="#ff0000"/>
<rect x="610" y="176" width="2" height="2" fill="#ff0000"/>
<rect x="603" y="139" width="2" height="2" fill="#ff0000"/>
<rect x="602" y="173" width="2" height="2" fill="#ff0000"/>
<rect x="614" y="159" width="2" height="2" fill="#ff0000"/>
<rect x="588" y="129" width="2" height="2" fill="#ff0000"/>
<rect x="609" y="155" width="2" height="2" fill="#ff0000"/>
<rect x="576" y="124" width="2" height="2" fill="#ff0000"/>
<rect x="607" y="175" width="2" height="2" fill="#ff0000"/>
<rect x="607" y="176" width="2" height="2" fill="#ff0000"/>
<rect x="607" y="139" width="2" height="2" fill="#ff0000"/>
<rect x="578" y="127" width="2" height="2" fill="#ff0000"/>
<rect x="578" y="134" width="2" height="2" fill="#ff0000"/>
<rect x="612" y="174" width="2" height="2" fill="#ff0000"/>
<rect x="588" y="124" width="2" height="2" fill="#ff0000"/>
<rect x="600" y="142" width="2" height="2" fill="#ff0000"/>
<rect x="602" y="146" width="2" height="2" fill="#ff0000"/>
<rect x="611" y="168" width="2" height="2" fill="#ff0000"/>
<rect x="608" y="159" width="2" height="2" fill="#ff0000"/>
<rect x="603" y="151" width="2" height="2" fill="#ff0000"/>
<rect x="602" y="176" width="2" height="2" fill="#ff0000"/>
<rect x="614" y="172" width="2" height="2" fill="#ff0000"/>
<rect x="608" y="154" width="2" height="2" fill="#ff0000"/>
<rect x="607" y="180" width="2" height="2" fill="#ff0000"/>
<rect x="598" y="130" width="2" height="2" fill="#ff0000"/>
<rect x="586" y="125" width="2" height="2" fill="#ff0000"/>
<rect x="579" y="136" width="2" height="2" fill="#ff0000"/>
<rect x="611" y="171" width="2" height="2" fill="#ff0000"/>
<rect x="581" y="134" width="2" height="2" fill="#ff0000"/>
<rect x="600" y="138" width="2" height="2" fill="#ff0000"/>
<rect x="595" y="145" width="2" height="2" fill="#ff0000"/>
<rect x="579" y="129" width="2" height="2" fill="#ff0000"/>
<rect x="613" y="181" width="2" height="2" fill="#ff0000"/>
<rect x="610" y="156" width="2" height="2" fill="#ff0000"/>
<rect x="618" y="174" width="2" height="2" fill="#ff0000"/>
<rect x="599" y="135" width="2" height="2" fill="#ff0000"/>
<rect x="604" y="145" width="2" height="2" fill="#ff0000"/>
<rect x="596" y="147" width="2" height="2" fill="#ff0000"/>
<rect x="580" y="129" width="2" height="2" fill="#ff0000"/>
<rect x="604" y="139" width="2" height="2" fill="#ff0000"/>
<rect x="580" y="127" width="2" height="2" fill="#ff0000"/>
<rect x="595" y="124" width="2" height="2" fill="#ff0000"/>
<rect x="613" y="174" width="2" height="2" fill="#ff0000"/>
<rect x="614" y="163" width="2" height="2" fill="#ff0000"/>
<rect x="599" y="130" width="2" height="2" fill="#ff0000"/>
<rect x="592" y="128" width="2" height="2" fill="#ff0000"/>
<rect x="580" y="130" width="2" height="2" fill="#ff0000"/>
<rect x="593" y="127" width="2" height="2" fill="#ff0000"/>
<rect x="612" y="180" width="2" height="2" fill="#ff0000"/>
<rect x="605" y="174" width="2" height="2" fill="#ff0000"/>
<rect x="609" y="161" width="2" height="2" fill="#ff0000"/>
<rect x="592" y="132" width="2" height="2" fill="#ff0000"/>
<rect x="584" y="130" width="2" height="2" fill="#ff0000"/>
<rect x="611" y="155" width="2" height="2" fill="#ff0000"/>
<rect x="609" y="177" width="2" height="2" fill="#ff0000"/>
<rect x="612" y="170" width="2" height="2" fill="#ff0000"/>
<rect x="580" y="135" width="2" height="2" fill="#ff0000"/>
<rect x="596" y="125" width="2" height="2" fill="#ff0000"/>
<rect x="600" y="145" width="2" height="2" fill="#ff0000"/>
<rect x="607" y="163" width="2" height="2" fill="#ff0000"/>
<rect x="604" y="163" width="2" height="2" fill="#ff0000"/>
<rect x="609" y="157" width="2" height="2" fill="#ff0000"/>
<rect x="603" y="175" width="2" height="2" fill="#ff0000"/>
<rect x="608" y="155" width="2" height="2" fill="#ff0000"/>
<rect x="614" y="168" width="2" height="2" fill="#ff0000"/>
<rect x="613" y="164" width="2" height="2" fill="#ff0000"/>
<rect x="610" y="146" width="2" height="2" fill="#ff0000"/>
<rect x="586" y="122" width="2" height="2" fill="#ff0000"/>
<rect x="588" y="137" width="2" height="2" fill="#ff0000"/>
<rect x="610" y="147" width="2" height="2" fill="#ff0000"/>
<rect x="610" y="144" width="2" height="2" fill="#ff0000"/>
<rect x="613" y="170" width="2" height="2" fill="#ff0000"/>
<rect x="602" y="137" width="2" height="2" fill="#ff0000"/>
<rect x="604" y="170" width="2" height="2" fill="#ff0000"/>
<rect x="591" y="132" width="2" height="2" fill="#ff0000"/>
<rect x="580" y="139" width="2" height="2" fill="#ff0000"/>
<rect x="606" y="167" width="2" height="2" fill="#ff0000"/>
<rect x="592" y="135" width="2" height="2" fill="#ff0000"/>
<rect x="579" y="138" width="2" height="2" fill="#ff0000"/>
<rect x="606" y="137" width="2" height="2" fill="#ff0000"/>
<rect x="603" y="164" width="2" height="2" fill="#ff0000"/>
<rect x="604" y="180" width="2" height="2" fill="#ff0000"/>
<rect x="605" y="153" width="2" height="2" fill="#ff0000"/>
<rect x="576" y="137" width="2" height="2" fill="#ff0000"/>
<rect x="595" y="136" width="2" height="2" fill="#ff0000"/>
<rect x="620" y="180" width="2" height="2" fill="#ff0000"/>
<rect x="628" y="155" width="2" height="2" fill="#ff0000"/>
<rect x="624" y="146" width="2" height="2" fill="#ff0000"/>
<rect x="624" y="152" width="2" height="2" fill="#ff0000"/>
<rect x="590" y="113" width="2" height="2" fill="#ff0000"/>
<rect x="624" y="131" width="2" height="2" fill="#ff0000"/>
<rect x="612" y="137" width="2" height="2" fill="#ff0000"/>
<rect x="604" y="126" width="2" height="2" fill="#ff0000"/>
<rect x="626" y="173" width="2" height="2" fill="#ff0000"/>
<rect x="625" y="125" width="2" height="2" fill="#ff0000"/>
<rect x="617" y="159" width="2" height="2" fill="#ff0000"/>
<rect x="631" y="132" width="2" height="2" fill="#ff0000"/>
<rect x="630" y="128" width="2" height="2" fill="#ff0000"/>
<rect x="616" y="149" width="2" height="2" fill="#ff0000"/>
<rect x="609" y="141" width="2" height="2" fill="#ff0000"/>
<rect x="628" y="140" width="2" height="2" fill="#ff0000"/>
<rect x="632" y="175" width="2" height="2" fill="#ff0000"/>
<rect x="622" y="152" width="2" height="2" fill="#ff0000"/>
<rect x="580" y="115" width="2" height="2" fill="#ff0000"/>
<rect x="621" y="159" width="2" height="2" fill="#ff0000"/>
<rect x="626" y="167" width="2" height="2" fill="#ff0000"/>
<rect x="620" y="142" width="2" height="2" fill="#ff0000"/>
<rect x="628" y="176" width="2" height="2" fill="#ff0000"/>
<rect x="621" y="134" width="2" height="2" fill="#ff0000"/>
<rect x="631" y="172" width="2" height="2" fill="#ff0000"/>
<rect x="608" y="131" width="2" height="2" fill="#ff0000"/>
<rect x="578" y="112" width="2" height="2" fill="#ff0000"/>
<rect x="626" y="148" width="2" height="2" fill="#ff0000"/>
<rect x="615" y="118" width="2" height="2" fill="#ff0000"/>
<rect x="611" y="125" width="2" height="2" fill="#ff0000"/>
<rect x="617" y="115" width="2" height="2" fill="#ff0000"/>
<rect x="618" y="162" width="2" height="2" fill="#ff0000"/>
<rect x="615" y="128" width="2" height="2" fill="#ff0000"/>
<rect x="604" y="119" width="2" height="2" fill="#ff0000"/>
<rect x="580" y="119" width="2" height="2" fill="#ff0000"/>
<rect x="629" y="168" width="2" height="2" fill="#ff0000"/>
<rect x="634" y="138" width="2" height="2" fill="#ff0000"/>
<rect x="614" y="114" width="2" height="2" fill="#ff0000"/>
<rect x="618" y="156" width="2" height="2" fill="#ff0000"/>
<rect x="626" y="141" width="2" height="2" fill="#ff0000"/>
<rect x="619" y="129" width="2" height="2" fill="#ff0000"/>
<rect x="595" y="113" width="2" height="2" fill="#ff0000"/>
<rect x="618" y="141" width="2" height="2" fill="#ff0000"/>
<rect x="610" y="123" width="2" height="2" fill="#ff0000"/>
<rect x="614" y="142" width="2" height="2" fill="#ff0000"/>
<rect x="628" y="179" width="2" height="2" fill="#ff0000"/>
<rect x="614" y="146" width="2" height="2" fill="#ff0000"/>
<rect x="627" y="152" width="2" height="2" fill="#ff0000"/>
<rect x="616" y="129" width="2" height="2" fill="#ff0000"/>
<rect x="631" y="138" width="2" height="2" fill="#ff0000"/>
<rect x="606" y="125" width="2" height="2" fill="#ff0000"/>
<rect x="619" y="112" width="2" height="2" fill="#ff0000"/>
<rect x="606" y="121" width="2" height="2" fill="#ff0000"/>
<rect x="630" y="167" width="2" height="2" fill="#ff0000"/>
<rect x="614" y="135" width="2" height="2" fill="#ff0000"/>
<rect x="616" y="155" width="2" height="2" fill="#ff0000"/>
<rect x="616" y="121" width="2" height="2" fill="#ff0000"/>
<rect x="625" y="128" width="2" height="2" fill="#ff0000"/>
<rect x="604" y="120" width="2" height="2" fill="#ff0000"/>
<rect x="633" y="152" width="2" height="2" fill="#ff0000"/>
<rect x="630" y="146" width="2" height="2" fill="#ff0000"/>
<rect x="632" y="141" width="2" height="2" fill="#ff0000"/>
<rect x="596" y="118" width="2" height="2" fill="#ff0000"/>
<rect x="607" y="118" width="2" height="2" fill="#ff0000"/>
<rect x="630" y="131" width="2" height="2" fill="#ff0000"/>
<rect x="615" y="137" width="2" height="2" fill="#ff0000"/>
<rect x="613" y="111" width="2" height="2" fill="#ff0000"/>
<rect x="609" y="109" width="2" height="2" fill="#ff0000"/>
<rect x="633" y="140" width="2" height="2" fill="#ff0000"/>
<rect x="596" y="117" width="2" height="2" fill="#ff0000"/>
<rect x="619" y="151" width="2" height="2" fill="#ff0000"/>
<rect x="624" y="170" width="2" height="2" fill="#ff0000"/>
<rect x="626" y="129" width="2" height="2" fill="#ff0000"/>
<rect x="595" y="109" width="2" height="2" fill="#ff0000"/>
<rect x="606" y="118" width="2" height="2" fill="#ff0000"/>
<rect x="597" y="104" width="2" height="2" fill="#ff0000"/>
<rect x="588" y="109" width="2" height="2" fill="#ff0000"/>
<rect x="632" y="145" width="2" height="2" fill="#ff0000"/>
<rect x="609" y="120" width="2" height="2" fill="#ff0000"/>
<rect x="626" y="180" width="2" height="2" fill="#ff0000"/>
<rect x="619" y="130" width="2" height="2" fill="#ff0000"/>
<rect x="633" y="91" width="2" height="2" fill="#ff0000"/>
<rect x="647" y="91" width="2" height="2" fill="#ff0000"/>
<rect x="648" y="91" width="2" height="2" fill="#ff0000"/>
<rect x="655" y="91" width="2" height="2" fill="#ff0000"/>
<rect x="658" y="101" width="2" height="2" fill="#ff0000"/>
<rect x="654" y="104" width="2" height="2" fill="#ff0000"/>
<rect x="636" y="104" width="2" height="2" fill="#ff0000"/>
<rect x="646" y="111" width="2" height="2" fill="#ff0000"/>
<rect x="645" y="114" width="2" height="2" fill="#ff0000"/>
<rect x="655" y="117" width="2" height="2" fill="#ff0000"/>
<rect x="628" y="112" width="2" height="2" fill="#ff0000"/>
<rect x="627" y="115" width="2" height="2" fill="#ff0000"/>
<rect x="633" y="115" width="2" height="2" fill="#ff0000"/>
<rect x="623" y="114" width="2" height="2" fill="#ff0000"/>
<rect x="658" y="124" width="2" height="2" fill="#ff0000"/>
<rect x="648" y="121" width="2" height="2" fill="#ff0000"/>
<rect x="639" y="121" width="2" height="2" fill="#ff0000"/>
<rect x="627" y="121" width="2" height="2" fill="#ff0000"/>
<rect x="619" y="121" width="2" height="2" fill="#ff0000"/>
<rect x="619" y="123" width="2" height="2" fill="#ff0000"/>
<rect x="604" y="110" width="2" height="2" fill="#ff0000"/>
<rect x="606" y="110" width="2" height="2" fill="#ff0000"/>
<rect x="610" y="107" width="2" height="2" fill="#ff0000"/>
<rect x="614" y="110" width="2" height="2" fill="#ff0000"/>
<rect x="615" y="111" width="2" height="2" fill="#ff0000"/>
<rect x="597" y="114" width="2" height="2" fill="#ff0000"/>
<rect x="601" y="116" width="2" height="2" fill="#ff0000"/>
<rect x="611" y="114" width="2" height="2" fill="#ff0000"/>
<rect x="611" y="116" width="2" height="2" fill="#ff0000"/>
<rect x="608" y="117" width="2" height="2" fill="#ff0000"/>
<rect x="602" y="120" width="2" height="2" fill="#ff0000"/>
<rect x="593" y="122" width="2" height="2" fill="#ff0000"/>
<rect x="598" y="124" width="2" height="2" fill="#ff0000"/>
<rect x="600" y="126" width="2" height="2" fill="#ff0000"/>
<rect x="599" y="128" width="2" height="2" fill="#ff0000"/>
<rect x="591" y="127" width="2" height="2" fill="#ff0000"/>
<rect x="589" y="129" width="2" height="2" fill="#ff0000"/>
<rect x="588" y="131" width="2" height="2" fill="#ff0000"/>
<rect x="607" y="122" width="2" height="2" fill="#ff0000"/>
<rect x="612" y="128" width="2" height="2" fill="#ff0000"/>
<rect x="614" y="129" width="2" height="2" fill="#ff0000"/>
<rect x="616" y="131" width="2" height="2" fill="#ff0000"/>
<rect x="617" y="129" width="2" height="2" fill="#ff0000"/>
<rect x="622" y="132" width="2" height="2" fill="#ff0000"/>
<rect x="631" y="128" width="2" height="2" fill="#ff0000"/>
<rect x="637" y="130" width="2" height="2" fill="#ff0000"/>
<rect x="643" y="131" width="2" height="2" fill="#ff0000"/>
<rect x="645" y="133" width="2" height="2" fill="#ff0000"/>
<rect x="644" y="135" width="2" height="2" fill="#ff0000"/>
<rect x="651" y="133" width="2" height="2" fill="#ff0000"/>
<rect x="605" y="131" width="2" height="2" fill="#ff0000"/>
<rect x="608" y="133" width="2" height="2" fill="#ff0000"/>
<rect x="609" y="135" width="2" height="2" fill="#ff0000"/>
<rect x="605" y="136" width="2" height="2" fill="#ff0000"/>
<rect x="584" y="137" width="2" height="2" fill="#ff0000"/>
<rect x="587" y="136" width="2" height="2" fill="#ff0000"/>
<rect x="589" y="138" width="2" height="2" fill="#ff0000"/>
<rect x="591" y="137" width="2" height="2" fill="#ff0000"/>
<rect x="624" y="132" width="2" height="2" fill="#ff0000"/>
<rect x="630" y="130" width="2" height="2" fill="#ff0000"/>
<rect x="633" y="135" width="2" height="2" fill="#ff0000"/>
<rect x="631" y="137" width="2" height="2" fill="#ff0000"/>
<rect x="635" y="136" width="2" height="2" fill="#ff0000"/>
<rect x="643" y="130" width="2" height="2" fill="#ff0000"/>
<rect x="644" y="134" width="2" height="2" fill="#ff0000"/>
<rect x="645" y="135" width="2" height="2" fill="#ff0000"/>
<rect x="642" y="143" width="2" height="2" fill="#ff0000"/>
<rect x="644" y="143" width="2" height="2" fill="#ff0000"/>
<rect x="647" y="144" width="2" height="2" fill="#ff0000"/>
<rect x="648" y="137" width="2" height="2" fill="#ff0000"/>
<rect x="651" y="140" width="2" height="2" fill="#ff0000"/>
<rect x="654" y="142" width="2" height="2" fill="#ff0000"/>
<rect x="657" y="143" width="2" height="2" fill="#ff0000"/>
<rect x="655" y="146" width="2" height="2" fill="#ff0000"/>
<rect x="626" y="142" width="2" height="2" fill="#ff0000"/>
<rect x="630" y="140" width="2" height="2" fill="#ff0000"/>
<rect x="635" y="142" width="2" height="2" fill="#ff0000"/>
<rect x="635" y="143" width="2" height="2" fill="#ff0000"/>
<rect x="627" y="146" width="2" height="2" fill="#ff0000"/>
<rect x="629" y="147" width="2" height="2" fill="#ff0000"/>
<rect x="633" y="147" width="2" height="2" fill="#ff0000"/>
<rect x="638" y="151" width="2" height="2" fill="#ff0000"/>
<rect x="640" y="153" width="2" height="2" fill="#ff0000"/>
<rect x="623" y="154" width="2" height="2" fill="#ff0000"/>
<rect x="626" y="158" width="2" height="2" fill="#ff0000"/>
<rect x="629" y="159" width="2" height="2" fill="#ff0000"/>
<rect x="631" y="158" width="2" height="2" fill="#ff0000"/>
<rect x="634" y="159" width="2" height="2" fill="#ff0000"/>
<rect x="644" y="161" width="2" height="2" fill="#ff0000"/>
<rect x="624" y="163" width="2" height="2" fill="#ff0000"/>
<rect x="627" y="164" width="2" height="2" fill="#ff0000"/>
<rect x="635" y="164" width="2" height="2" fill="#ff0000"/>
<rect x="637" y="166" width="2" height="2" fill="#ff0000"/>
<rect x="629" y="166" width="2" height="2" fill="#ff0000"/>
<rect x="630" y="168" width="2" height="2" fill="#ff0000"/>
<rect x="638" y="166" width="2" height="2" fill="#ff0000"/>
<rect x="622" y="168" width="2" height="2" fill="#ff0000"/>
<rect x="625" y="169" width="2" height="2" fill="#ff0000"/>
<rect x="620" y="178" width="2" height="2" fill="#ff0000"/>
<rect x="626" y="178" width="2" height="2" fill="#ff0000"/>
<rect x="629" y="179" width="2" height="2" fill="#ff0000"/>
<rect x="632" y="179" width="2" height="2" fill="#ff0000"/>
<rect x="619" y="171" width="2" height="2" fill="#ff0000"/>
<line x1="67.5" y1="44.0" x2="67.5" y2="233.8" stroke="#000" stroke-width="1.7"/>
<line x1="62.9" y1="229.0" x2="345.2" y2="229.0" stroke="#000" stroke-width="1.6"/>
<line x1="62.9" y1="229.00" x2="67.5" y2="229.00" stroke="#000" stroke-width="1.6"/>
<text x="0" y="0" transform="translate(60.80,233.60) scale(1,1.06)" font-size="13.3" font-weight="bold" text-anchor="end" fill="#111" >0</text>
<line x1="62.9" y1="192.16" x2="67.5" y2="192.16" stroke="#000" stroke-width="1.6"/>
<text x="0" y="0" transform="translate(60.80,196.76) scale(1,1.06)" font-size="13.3" font-weight="bold" text-anchor="end" fill="#111" >2</text>
<line x1="62.9" y1="155.32" x2="67.5" y2="155.32" stroke="#000" stroke-width="1.6"/>
<text x="0" y="0" transform="translate(60.80,159.92) scale(1,1.06)" font-size="13.3" font-weight="bold" text-anchor="end" fill="#111" >4</text>
<line x1="62.9" y1="118.48" x2="67.5" y2="118.48" stroke="#000" stroke-width="1.6"/>
<text x="0" y="0" transform="translate(60.80,123.08) scale(1,1.06)" font-size="13.3" font-weight="bold" text-anchor="end" fill="#111" >6</text>
<line x1="62.9" y1="81.64" x2="67.5" y2="81.64" stroke="#000" stroke-width="1.6"/>
<text x="0" y="0" transform="translate(60.80,86.24) scale(1,1.06)" font-size="13.3" font-weight="bold" text-anchor="end" fill="#111" >8</text>
<line x1="62.9" y1="44.80" x2="67.5" y2="44.80" stroke="#000" stroke-width="1.6"/>
<text x="0" y="0" transform="translate(60.80,49.40) scale(1,1.06)" font-size="13.3" font-weight="bold" text-anchor="end" fill="#111" >10</text>
<line x1="67.60" y1="229.0" x2="67.60" y2="233.8" stroke="#000" stroke-width="1.6"/>
<text x="0" y="0" transform="translate(67.60,249.80) scale(1,1.06)" font-size="13.3" font-weight="bold" text-anchor="middle" fill="#111" >-4</text>
<line x1="136.80" y1="229.0" x2="136.80" y2="233.8" stroke="#000" stroke-width="1.6"/>
<text x="0" y="0" transform="translate(136.80,249.80) scale(1,1.06)" font-size="13.3" font-weight="bold" text-anchor="middle" fill="#111" >-2</text>
<line x1="206.00" y1="229.0" x2="206.00" y2="233.8" stroke="#000" stroke-width="1.6"/>
<text x="0" y="0" transform="translate(206.00,249.80) scale(1,1.06)" font-size="13.3" font-weight="bold" text-anchor="middle" fill="#111" >0</text>
<line x1="275.20" y1="229.0" x2="275.20" y2="233.8" stroke="#000" stroke-width="1.6"/>
<text x="0" y="0" transform="translate(275.20,249.80) scale(1,1.06)" font-size="13.3" font-weight="bold" text-anchor="middle" fill="#111" >2</text>
<line x1="344.40" y1="229.0" x2="344.40" y2="233.8" stroke="#000" stroke-width="1.6"/>
<text x="0" y="0" transform="translate(344.40,249.80) scale(1,1.06)" font-size="13.3" font-weight="bold" text-anchor="middle" fill="#111" >4</text>
<line x1="423.8" y1="43.800000000000004" x2="423.8" y2="234.0" stroke="#000" stroke-width="1.7"/>
<line x1="419.2" y1="229.2" x2="702.0" y2="229.2" stroke="#000" stroke-width="1.6"/>
<line x1="419.2" y1="229.20" x2="423.8" y2="229.20" stroke="#000" stroke-width="1.6"/>
<text x="0" y="0" transform="translate(417.20,233.80) scale(1,1.06)" font-size="13.3" font-weight="bold" text-anchor="end" fill="#111" >0</text>
<line x1="419.2" y1="183.04" x2="423.8" y2="183.04" stroke="#000" stroke-width="1.6"/>
<text x="0" y="0" transform="translate(417.20,187.64) scale(1,1.06)" font-size="13.3" font-weight="bold" text-anchor="end" fill="#111" >2</text>
<line x1="419.2" y1="136.88" x2="423.8" y2="136.88" stroke="#000" stroke-width="1.6"/>
<text x="0" y="0" transform="translate(417.20,141.48) scale(1,1.06)" font-size="13.3" font-weight="bold" text-anchor="end" fill="#111" >4</text>
<line x1="419.2" y1="90.72" x2="423.8" y2="90.72" stroke="#000" stroke-width="1.6"/>
<text x="0" y="0" transform="translate(417.20,95.32) scale(1,1.06)" font-size="13.3" font-weight="bold" text-anchor="end" fill="#111" >6</text>
<line x1="419.2" y1="44.56" x2="423.8" y2="44.56" stroke="#000" stroke-width="1.6"/>
<text x="0" y="0" transform="translate(417.20,49.16) scale(1,1.06)" font-size="13.3" font-weight="bold" text-anchor="end" fill="#111" >8</text>
<line x1="423.80" y1="229.2" x2="423.80" y2="234.0" stroke="#000" stroke-width="1.6"/>
<text x="0" y="0" transform="translate(423.80,249.80) scale(1,1.06)" font-size="13.3" font-weight="bold" text-anchor="middle" fill="#111" >-10</text>
<line x1="493.15" y1="229.2" x2="493.15" y2="234.0" stroke="#000" stroke-width="1.6"/>
<text x="0" y="0" transform="translate(493.15,249.80) scale(1,1.06)" font-size="13.3" font-weight="bold" text-anchor="middle" fill="#111" >-5</text>
<line x1="562.50" y1="229.2" x2="562.50" y2="234.0" stroke="#000" stroke-width="1.6"/>
<text x="0" y="0" transform="translate(562.50,249.80) scale(1,1.06)" font-size="13.3" font-weight="bold" text-anchor="middle" fill="#111" >0</text>
<line x1="631.85" y1="229.2" x2="631.85" y2="234.0" stroke="#000" stroke-width="1.6"/>
<text x="0" y="0" transform="translate(631.85,249.80) scale(1,1.06)" font-size="13.3" font-weight="bold" text-anchor="middle" fill="#111" >5</text>
<line x1="701.20" y1="229.2" x2="701.20" y2="234.0" stroke="#000" stroke-width="1.6"/>
<text x="0" y="0" transform="translate(701.20,249.80) scale(1,1.06)" font-size="13.3" font-weight="bold" text-anchor="middle" fill="#111" >10</text>
<rect x="67.5" y="195.2" width="60.80000000000001" height="33.80000000000001" fill="#fff" stroke="#000" stroke-width="1"/>
<rect x="71.4" y="200.6" width="2" height="2" fill="#e41a1a"/>
<text x="0" y="0" transform="translate(93.30,205.50) scale(1,1.12)" font-size="9.9" font-weight="normal" text-anchor="start" fill="#222" >UP</text>
<rect x="71.4" y="211.4" width="2" height="2" fill="#888888"/>
<text x="0" y="0" transform="translate(93.30,216.30) scale(1,1.12)" font-size="9.9" font-weight="normal" text-anchor="start" fill="#222" >NS</text>
<rect x="71.4" y="222.4" width="2" height="2" fill="#22dd22"/>
<text x="0" y="0" transform="translate(93.30,227.30) scale(1,1.12)" font-size="9.9" font-weight="normal" text-anchor="start" fill="#222" >DOWN</text>
<rect x="423.8" y="189.6" width="60.69999999999999" height="39.599999999999994" fill="#fff" stroke="#000" stroke-width="1"/>
<rect x="428.5" y="195.0" width="2" height="2" fill="#e41a1a"/>
<text x="0" y="0" transform="translate(450.30,199.90) scale(1,1.12)" font-size="10.3" font-weight="normal" text-anchor="start" fill="#222" >UP</text>
<rect x="428.5" y="207.2" width="2" height="2" fill="#888888"/>
<text x="0" y="0" transform="translate(450.30,212.10) scale(1,1.12)" font-size="10.3" font-weight="normal" text-anchor="start" fill="#222" >NS</text>
<rect x="428.5" y="219.3" width="2" height="2" fill="#22dd22"/>
<text x="0" y="0" transform="translate(450.30,224.20) scale(1,1.12)" font-size="10.3" font-weight="normal" text-anchor="start" fill="#222" >DOWN</text>
<text x="0" y="0" transform="translate(206.00,20.90) scale(1,1.1)" font-size="14.9" font-weight="normal" text-anchor="middle" fill="#111" >GSE123568</text>
<text x="0" y="0" transform="translate(9.00,16.20) scale(1,1.12)" font-size="20.5" font-weight="bold" text-anchor="start" fill="#000" >A</text>
<text x="0" y="0" transform="translate(562.50,20.90) scale(1,1.1)" font-size="14.9" font-weight="normal" text-anchor="middle" fill="#111" >GSE74089</text>
<text x="0" y="0" transform="translate(372.60,16.20) scale(1,1.12)" font-size="20.5" font-weight="bold" text-anchor="start" fill="#000" >B</text>
<text x="0" y="0" font-size="15.5" font-weight="bold" text-anchor="middle" fill="#000" transform="translate(12.2,137.3) rotate(-90)">-Log10(adj.P.Val)</text>
<text x="0" y="0" font-size="15.5" font-weight="bold" text-anchor="middle" fill="#000" transform="translate(383.5,137.1) rotate(-90)">-Log10(adj.P.Val)</text>
<text x="206.20" y="296.00" font-size="15.2" font-weight="bold" text-anchor="middle" fill="#000" >Log2(Fold Change)</text>
<text x="562.10" y="298.30" font-size="15.2" font-weight="bold" text-anchor="middle" fill="#000" >Log2(Fold Change)</text>
</svg>
</body></html>
